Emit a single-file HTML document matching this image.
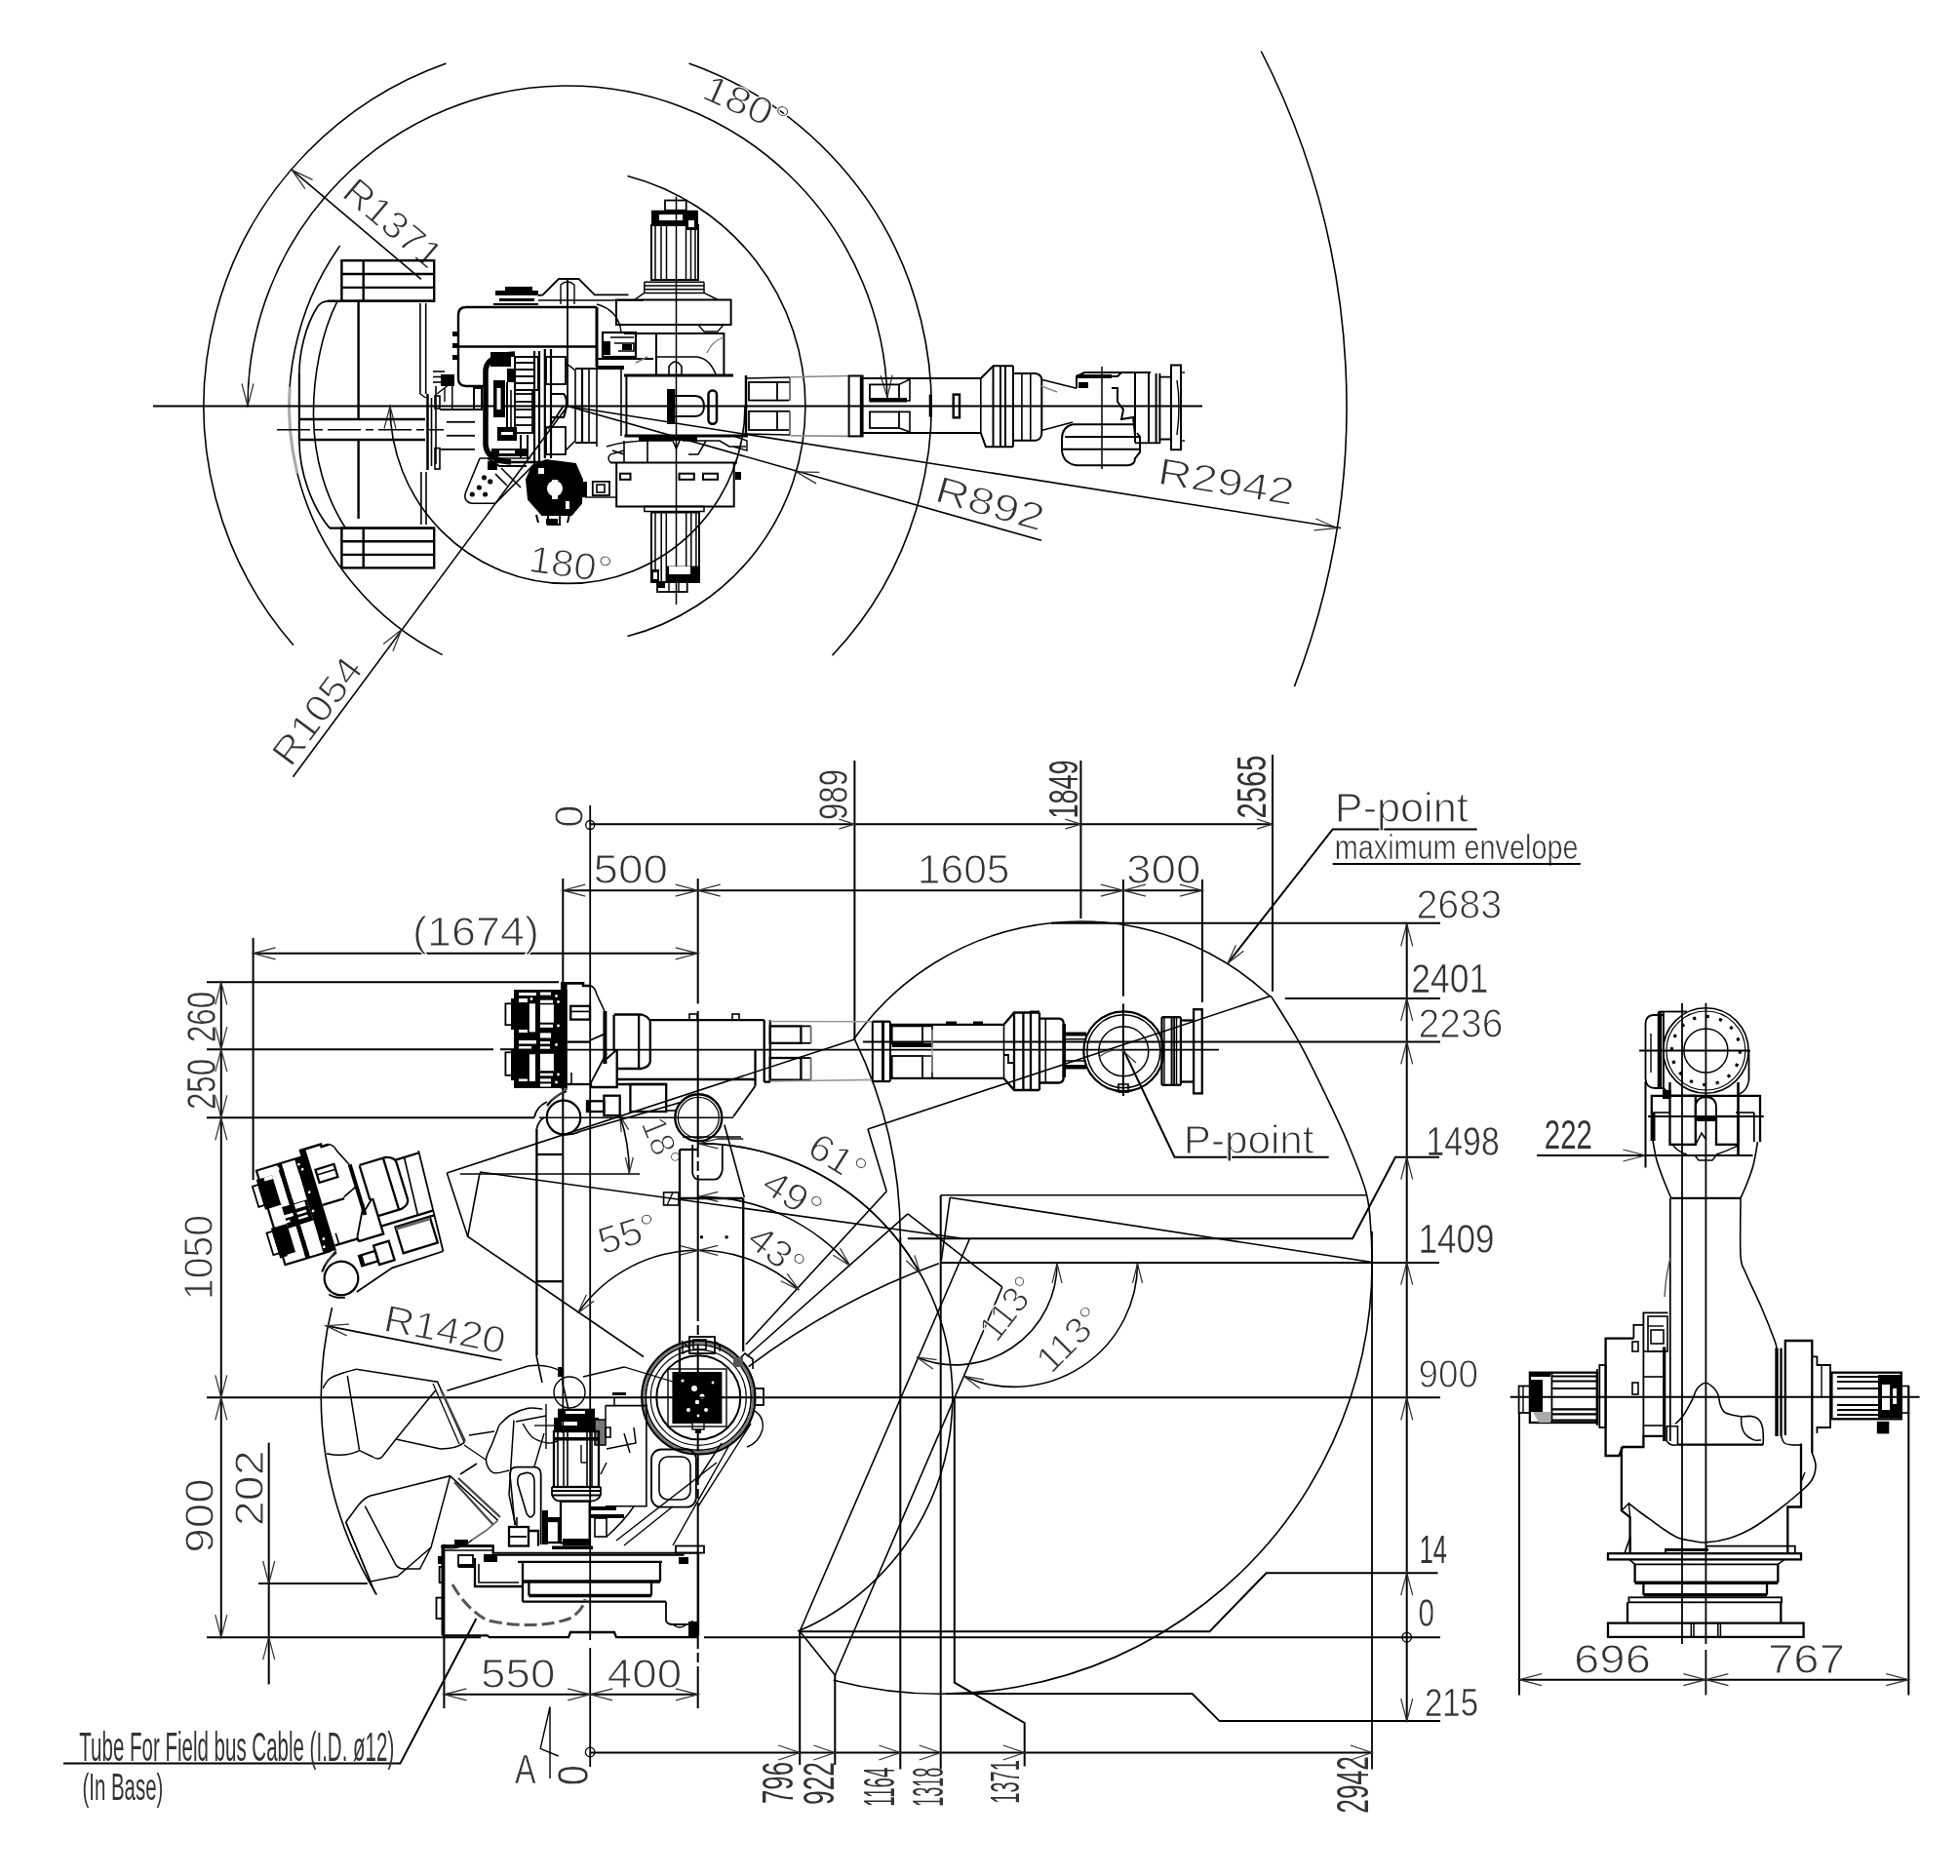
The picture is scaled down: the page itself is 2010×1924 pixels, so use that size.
<!DOCTYPE html>
<html lang="en"><head><meta charset="utf-8"><title>Robot dimensions and working envelope</title>
<style>
html,body{margin:0;padding:0;background:#fff;}
svg{display:block;will-change:transform;}

svg text{font-family:"Liberation Sans",sans-serif;white-space:pre;}
</style></head><body>
<svg width="2010" height="1924" viewBox="0 0 2010 1924" fill="none" stroke-linecap="butt" stroke-linejoin="miter">
<rect x="0" y="0" width="2010" height="1924" style="fill:#fff" stroke="none"/>
<g id="top-dims">
<path d="M300.9 661.7A373 373 0 0 1 457.5 64.9" stroke="#000" stroke-width="1.6" />
<path d="M706.5 64.9A373 373 0 0 1 853.5 672.3" stroke="#000" stroke-width="1.6" />
<path d="M254 416.5A328 328 0 0 1 909.9 407.9" stroke="#000" stroke-width="1.6" />
<path d="M248 393.5L254 416.5L260 393.5" stroke="#333" stroke-width="1.25"/>
<path d="M903.1 385.1L909.9 407.9L915.1 384.7" stroke="#333" stroke-width="1.25"/>
<path d="M453.7 671.6A285.5 285.5 0 0 1 348.7 251.9" stroke="#000" stroke-width="1.6" />
<path d="M305 485.6A285.5 285.5 0 0 1 297.2 396.6" stroke="#aaa" stroke-width="3" />
<path d="M643.5 180.4A244 244 0 0 1 643.5 652.6" stroke="#000" stroke-width="1.6" />
<path d="M400 416.5A182 182 0 0 0 764 416.5" stroke="#000" stroke-width="1.6" />
<path d="M406 439.5L400 416.5L394 439.5" stroke="#333" stroke-width="1.25"/>
<path d="M1293.3 52.5A799 799 0 0 1 1327.4 704.1" stroke="#000" stroke-width="1.6" />
<path d="M157 416.5L1233 416.5" stroke="#000" stroke-width="2" />
<path d="M582 286L582 416.5" stroke="#000" stroke-width="1.8" />
<path d="M582 416.5L300.5 796.7" stroke="#000" stroke-width="1.6" />
<path d="M402.9 667.7L411.8 645.7L393.2 660.6" stroke="#333" stroke-width="1.25"/>
<path d="M431.9 286.4L299.2 174.1" stroke="#000" stroke-width="1.6" />
<path d="M320.6 184.4L299.2 174.1L312.9 193.6" stroke="#333" stroke-width="1.25"/>
<path d="M582 416.5L1068 554.3" stroke="#000" stroke-width="1.6" />
<path d="M840.3 484.3L816.5 483.8L837 495.9" stroke="#333" stroke-width="1.25"/>
<path d="M582 416.5L1375 541.5" stroke="#000" stroke-width="1.6" />
<path d="M1347.5 543.8L1371.2 541.5L1349.4 532" stroke="#333" stroke-width="1.25"/>
<text transform="translate(349 200.5) rotate(40.3) scale(1.039 1)" style="font-size:38.8px;" fill="#333" stroke="#fff" stroke-width="1.1" paint-order="fill">R1371</text>
<text transform="translate(298 788) rotate(-53.3) scale(1.109 1)" style="font-size:38.8px;" fill="#333" stroke="#fff" stroke-width="1.1" paint-order="fill">R1054</text>
<text transform="translate(957 513.5) rotate(16) scale(1.227 1)" style="font-size:38.8px;" fill="#333" stroke="#fff" stroke-width="1.1" paint-order="fill">R892</text>
<text transform="translate(1186 496) rotate(9.1) scale(1.232 1)" style="font-size:38.8px;" fill="#333" stroke="#fff" stroke-width="1.1" paint-order="fill">R2942</text>
<text transform="translate(718 100) rotate(24) scale(1.145 1)" style="font-size:38.8px;" fill="#333" stroke="#fff" stroke-width="1.1" paint-order="fill">180°</text>
<text transform="translate(541 586) rotate(8) scale(1.070 1)" style="font-size:38.8px;" fill="#333" stroke="#fff" stroke-width="1.1" paint-order="fill">180°</text>
</g>
<g id="top-rear">
<rect x="350.4" y="267.2" width="94.8" height="41.6" stroke="#000" stroke-width="2.4" fill="none"/>
<path d="M350.4 281L445.2 281" stroke="#000" stroke-width="2.4" />
<path d="M350.4 294.9L445.2 294.9" stroke="#000" stroke-width="2.4" />
<path d="M372.7 267.2L372.7 308.8" stroke="#000" stroke-width="2.4" />
<rect x="350.4" y="541.6" width="94.8" height="40.8" stroke="#000" stroke-width="2.4" fill="none"/>
<path d="M350.4 555.3L445.2 555.3" stroke="#000" stroke-width="2.4" />
<path d="M350.4 568.9L445.2 568.9" stroke="#000" stroke-width="2.4" />
<path d="M372.7 541.6L372.7 582.4" stroke="#000" stroke-width="2.4" />
<path d="M445 308.8L336 308.8" stroke="#000" stroke-width="2.4" />
<path d="M336 308.8Q330 309 326 314C312 335 306.9 365 306.9 383" stroke="#000" stroke-width="1.7" />
<path d="M306.9 383L306.9 452" stroke="#000" stroke-width="2.2" />
<path d="M306.9 452C307 485 320 520 338 541.6" stroke="#000" stroke-width="1.7" />
<path d="M338 541.6L445 541.6" stroke="#000" stroke-width="2.4" />
<path d="M346 308.8C330 340 321 385 321.5 427C322 470 334 510 354 541" stroke="#000" stroke-width="1.6" />
<path d="M367.6 308.8L367.6 429.8" stroke="#000" stroke-width="2.4" />
<path d="M367.6 451L367.6 532" stroke="#000" stroke-width="2.4" />
<path d="M430.9 311L430.9 404" stroke="#000" stroke-width="1.6" />
<path d="M436.7 311L436.7 404" stroke="#000" stroke-width="1.6" />
<path d="M430.9 404L436.7 408" stroke="#000" stroke-width="1.4" />
<path d="M431.9 484L431.9 538" stroke="#000" stroke-width="1.6" />
<path d="M437 484L437 538" stroke="#000" stroke-width="1.6" />
<path d="M306.9 430L436 430" stroke="#000" stroke-width="2.4" />
<path d="M306.9 451L436 451" stroke="#000" stroke-width="2.4" />
<path d="M284 440.8L455 440.8" stroke="#000" stroke-width="1.4" stroke-dasharray="34 5 8 5"/>
<path d="M438.5 404L438.5 482" stroke="#000" stroke-width="2.5" />
<path d="M447 396L447 476" stroke="#000" stroke-width="1.6" />
<path d="M442.5 408L442.5 478" stroke="#000" stroke-width="1.6" />
<rect x="446" y="406" width="5" height="13" stroke="#000" stroke-width="1.6" fill="none"/>
<rect x="446" y="459.6" width="5" height="21.4" stroke="#000" stroke-width="1.6" fill="none"/>
<path d="M451 420L487 420" stroke="#000" stroke-width="1.8" />
<path d="M458 432.8L487 432.8" stroke="#000" stroke-width="1.8" />
<path d="M458 446.8L487 446.8" stroke="#000" stroke-width="1.8" />
<path d="M451 460.9L487 460.9" stroke="#000" stroke-width="1.8" />
<path d="M463.8 393L463.8 420" stroke="#000" stroke-width="1.5" />
</g>
<g id="top-body">
<path d="M612 315L478 315Q470 315 470 323L470 388Q470 396 478 396L500 396" stroke="#000" stroke-width="2.4" />
<path d="M470 355.5L612 355.5" stroke="#000" stroke-width="2.4" />
<path d="M612 315L612 376" stroke="#000" stroke-width="3" />
<rect x="464" y="340" width="6" height="5" fill="#000" stroke="none"/>
<rect x="464" y="352" width="6" height="5" fill="#000" stroke="none"/>
<rect x="464" y="364" width="6" height="5" fill="#000" stroke="none"/>
<rect x="452" y="384" width="14" height="12" fill="#000" stroke="none"/>
<path d="M444 381L456 381" stroke="#000" stroke-width="1.6" />
<path d="M444 386.5L456 386.5" stroke="#000" stroke-width="1.6" />
<path d="M444 392L456 392" stroke="#000" stroke-width="1.6" />
<path d="M456 398L456 412" stroke="#000" stroke-width="1.4" />
<path d="M466 390L448 404" stroke="#000" stroke-width="1.4" />
<rect x="508" y="298" width="44" height="5" fill="#000" stroke="none"/>
<rect x="512" y="306" width="36" height="3" fill="#000" stroke="none"/>
<path d="M506 312L552 312" stroke="#000" stroke-width="2" />
<rect x="518" y="294" width="28" height="4" fill="#000" stroke="none"/>
<path d="M552 303L556.7 302.4L573 286L593.5 286L609.8 302.4L644.5 302.4" stroke="#000" stroke-width="1.8" />
<path d="M575 312L575 292Q582 286 589 292L589 312" stroke="#000" stroke-width="1.4" />
<path d="M552 308L660 308" stroke="#000" stroke-width="1.6" />
<path d="M612 312Q634 318 637 340" stroke="#000" stroke-width="1.4" />
<rect x="682" y="205.5" width="21.7" height="10.2" stroke="#000" stroke-width="1.8" fill="none"/>
<rect x="668" y="215.7" width="48" height="15.3" fill="#000" stroke="none"/>
<rect x="676" y="220" width="24" height="6" fill="#fff" stroke="none"/>
<rect x="668" y="231" width="48" height="56" stroke="#000" stroke-width="2" fill="none"/>
<path d="M672 231L672 287" stroke="#000" stroke-width="1.5" />
<path d="M678 231L678 287" stroke="#000" stroke-width="1.5" />
<path d="M683.5 231L683.5 287" stroke="#000" stroke-width="1.5" />
<path d="M703.5 231L703.5 287" stroke="#000" stroke-width="1.5" />
<path d="M708.5 231L708.5 287" stroke="#000" stroke-width="1.5" />
<path d="M713 231L713 287" stroke="#000" stroke-width="1.5" />
<rect x="703" y="222" width="13" height="14" fill="#000" stroke="none"/>
<rect x="706" y="226" width="6" height="7" fill="#fff" stroke="none"/>
<path d="M660.8 289.2L722 289.2" stroke="#000" stroke-width="1.5" />
<path d="M660.8 293L722 293" stroke="#000" stroke-width="1.5" />
<path d="M660.8 296.7L722 296.7" stroke="#000" stroke-width="1.5" />
<path d="M660.8 300.4L722 300.4" stroke="#000" stroke-width="1.5" />
<path d="M660.8 289.2L660.8 300.4" stroke="#000" stroke-width="1.5" />
<path d="M722 289.2L722 300.4" stroke="#000" stroke-width="1.5" />
<path d="M660.8 300.4L650.6 307.5M722 300.4L736.3 307.5" stroke="#000" stroke-width="1.5" />
<rect x="632" y="307.5" width="117.6" height="25.5" stroke="#000" stroke-width="2" fill="none"/>
<path d="M693.5 201.6L693.5 620" stroke="#000" stroke-width="1.5" />
<path d="M673 342L742.4 342L742.4 384M673 342L673 384" stroke="#000" stroke-width="2" />
<path d="M640 342L673 342" stroke="#000" stroke-width="2" />
<path d="M716 333L722 340L736 340L742 333" stroke="#000" stroke-width="1.3" />
<path d="M742 346Q730 350 725 362" stroke="#777" stroke-width="1.3" />
<path d="M673 366L715 366Q728 368 734 384" stroke="#000" stroke-width="1.6" />
<path d="M686 384L686 376Q692.5 366 699 376L699 384" stroke="#000" stroke-width="1.6" />
<rect x="618" y="341" width="34" height="25" stroke="#000" stroke-width="2.2" fill="none"/>
<rect x="618" y="350" width="8" height="14" fill="#000" stroke="none"/>
<path d="M626 346L650 346M630 352L650 352L650 360L634 360" stroke="#000" stroke-width="1.6" />
<rect x="638" y="353" width="10" height="6" fill="#000" stroke="none"/>
<path d="M612 368L670 368" stroke="#000" stroke-width="2" />
<path d="M612 376L640 376" stroke="#000" stroke-width="2" />
<path d="M652 372L664 366" stroke="#777" stroke-width="1.4" />
<path d="M640 385L752 385" stroke="#000" stroke-width="3.2" />
<path d="M640.4 447L767 447" stroke="#000" stroke-width="3.2" />
<path d="M642.4 385L642.4 447" stroke="#000" stroke-width="2" />
<path d="M765 385L765 447" stroke="#000" stroke-width="2.5" />
<path d="M637 376L637 447" stroke="#000" stroke-width="1.6" />
<rect x="684" y="399" width="8.4" height="36" fill="#000" stroke="none"/>
<path d="M692 406L712 406Q722 406 722 416.5Q722 427 712 427L692 427" stroke="#000" stroke-width="1.8" />
<rect x="726.5" y="400.4" width="8.5" height="34.3" stroke="#000" stroke-width="2.5" fill="none" rx="4"/>
<rect x="768" y="392" width="29" height="18.6" stroke="#000" stroke-width="1.8" fill="none"/>
<path d="M797 392L810 392" stroke="#000" stroke-width="1.8" />
<path d="M797 410.6L809 410.6" stroke="#000" stroke-width="1.8" />
<rect x="768" y="421.8" width="29" height="19.2" stroke="#000" stroke-width="1.8" fill="none"/>
<path d="M797 421.8L810 421.8" stroke="#000" stroke-width="1.8" />
<path d="M797 441L809 441" stroke="#000" stroke-width="1.8" />
<path d="M810 387L810 411" stroke="#555" stroke-width="1.6" />
<path d="M810 422L810 446" stroke="#555" stroke-width="1.6" />
<path d="M765 388L810 387" stroke="#000" stroke-width="1.4" />
<path d="M765 445L810 446" stroke="#000" stroke-width="1.4" />
<path d="M528 363Q499 364 498 380L498 456Q499 472 524 474" stroke="#000" stroke-width="5.5" />
<rect x="503" y="361" width="21" height="15" fill="#000" stroke="none"/>
<rect x="506" y="390" width="12" height="38" fill="#000" stroke="none"/>
<rect x="509.5" y="398" width="4" height="22" fill="#fff" stroke="none"/>
<rect x="510" y="438" width="20" height="14" fill="#000" stroke="none"/>
<rect x="514" y="443" width="12" height="3" fill="#fff" stroke="none"/>
<rect x="520" y="378" width="8" height="14" fill="#000" stroke="none"/>
<path d="M528 372L548 372" stroke="#000" stroke-width="2" />
<path d="M528 379L548 379" stroke="#000" stroke-width="2" />
<path d="M528 386L548 386" stroke="#000" stroke-width="2" />
<path d="M528 393L548 393" stroke="#000" stroke-width="2" />
<rect x="528" y="366" width="24" height="34" stroke="#000" stroke-width="2" fill="none"/>
<path d="M548 360L548 476" stroke="#000" stroke-width="2.2" />
<path d="M553 360L553 476" stroke="#000" stroke-width="2.2" />
<path d="M528 404L546 404" stroke="#000" stroke-width="1.8" />
<path d="M528 412L546 412" stroke="#000" stroke-width="1.8" />
<path d="M528 420L546 420" stroke="#000" stroke-width="1.8" />
<path d="M528 428L546 428" stroke="#000" stroke-width="1.8" />
<path d="M528 436L546 436" stroke="#000" stroke-width="1.8" />
<rect x="528" y="400" width="18" height="44" stroke="#000" stroke-width="1.8" fill="none"/>
<rect x="504" y="460" width="36" height="8" fill="#000" stroke="none"/>
<path d="M500 474L556 474" stroke="#000" stroke-width="2.4" />
<path d="M500 470L512 478L540 478" stroke="#000" stroke-width="2" />
<rect x="512" y="462" width="16" height="3" fill="#fff" stroke="none"/>
<path d="M534 446L534 470" stroke="#000" stroke-width="2" />
<path d="M541 446L541 470" stroke="#000" stroke-width="2" />
<path d="M520 392L520 440" stroke="#000" stroke-width="2" />
<path d="M524 400L524 440" stroke="#000" stroke-width="1.6" />
<rect x="486" y="398" width="8" height="22" stroke="#000" stroke-width="2" fill="none"/>
<path d="M558.8 358L558.8 470" stroke="#000" stroke-width="2.2" />
<path d="M565 358L565 470" stroke="#000" stroke-width="2.2" />
<rect x="560" y="366" width="20" height="28" stroke="#000" stroke-width="1.8" fill="none"/>
<rect x="560" y="438" width="20" height="28" stroke="#000" stroke-width="1.8" fill="none"/>
<path d="M580 372L590 380L590 452L580 462" stroke="#000" stroke-width="1.6" />
<path d="M566 404L578 404Q584 410 578 428L566 428" stroke="#000" stroke-width="2.2" />
<path d="M562 440L578 416" stroke="#000" stroke-width="1.8" />
<path d="M597 378L597 454" stroke="#000" stroke-width="2.2" />
<path d="M604 378L604 454" stroke="#000" stroke-width="1.6" />
<path d="M590 378L640 378" stroke="#000" stroke-width="2" />
<path d="M590 454L612 454" stroke="#000" stroke-width="2" />
<path d="M612 376L612 458" stroke="#000" stroke-width="1.6" />
<path d="M622 458Q640 452 668 452L690 452M700 452L738 452L748 458L765 458" stroke="#000" stroke-width="1.6" />
<path d="M628 462L640 466M640 452L640 474M664 452L664 474M724 452L716 466L706 466" stroke="#000" stroke-width="1.6" />
<rect x="655" y="447" width="60" height="5" fill="#000" stroke="none"/>
<path d="M690 452L693.5 460L697 452" stroke="#000" stroke-width="1.6" />
<path d="M752 447L766 452L766 462L752 458" stroke="#000" stroke-width="1.4" />
<path d="M632.2 474.5L632.2 519.4L752.7 519.4L752.7 474.5" stroke="#000" stroke-width="2" />
<path d="M626 474.5L756 474.5" stroke="#000" stroke-width="2" />
<path d="M626 474.5Q622 470 626 466L640 462" stroke="#000" stroke-width="1.4" />
<rect x="636" y="485.7" width="10.5" height="6.1" stroke="#000" stroke-width="2" fill="none"/>
<rect x="696.5" y="485.7" width="15.3" height="6.1" stroke="#000" stroke-width="2" fill="none"/>
<rect x="721" y="485.7" width="15" height="6.1" stroke="#000" stroke-width="2" fill="none"/>
<rect x="754" y="484" width="6" height="8" fill="#000" stroke="none"/>
<rect x="660.8" y="519.4" width="61.2" height="5.1" stroke="#000" stroke-width="1.5" fill="none"/>
<rect x="668" y="525.5" width="49" height="71.5" stroke="#000" stroke-width="2" fill="none"/>
<path d="M672 525.5L672 597" stroke="#000" stroke-width="1.5" />
<path d="M678.2 525.5L678.2 597" stroke="#000" stroke-width="1.5" />
<path d="M683.3 525.5L683.3 597" stroke="#000" stroke-width="1.5" />
<path d="M703.7 525.5L703.7 597" stroke="#000" stroke-width="1.5" />
<path d="M708.8 525.5L708.8 597" stroke="#000" stroke-width="1.5" />
<path d="M713.9 525.5L713.9 597" stroke="#000" stroke-width="1.5" />
<rect x="683.3" y="580.6" width="33.7" height="16.4" fill="#000" stroke="none"/>
<rect x="686" y="581" width="22" height="8" fill="#fff" stroke="none"/>
<rect x="668" y="584" width="8" height="13" fill="#000" stroke="none"/>
<rect x="670" y="587" width="4" height="7" fill="#fff" stroke="none"/>
<rect x="674" y="597" width="30.7" height="10" stroke="#000" stroke-width="1.8" fill="none"/>
<rect x="674" y="597" width="8" height="6" fill="#000" stroke="none"/>
<path d="M686 597L686 607" stroke="#000" stroke-width="1.4" />
<path d="M696 597L696 607" stroke="#000" stroke-width="1.4" />
<path d="M546 478L560 472L590 476L597 492L596 516L586 528L556 528L542 512L540 492Z" fill="#000" stroke="#000" stroke-width="2"/>
<circle cx="569" cy="501" r="8" fill="#fff" stroke="none"/>
<rect x="566" y="492" width="6" height="20" fill="#fff" stroke="none"/>
<rect x="552" y="480" width="6" height="6" fill="#fff" stroke="none"/>
<rect x="580" y="514" width="4" height="8" fill="#fff" stroke="none"/>
<path d="M550 528L552 536M562 528L562 538L574 538L574 528M584 528L582 536" stroke="#000" stroke-width="2" />
<rect x="560" y="532" width="12" height="6" fill="#000" stroke="none"/>
<rect x="596" y="494" width="6" height="16" fill="#000" stroke="none"/>
<rect x="607.8" y="493.9" width="17.2" height="14.1" stroke="#000" stroke-width="1.8" fill="none"/>
<rect x="612" y="497" width="8" height="8" stroke="#000" stroke-width="1.6" fill="none"/>
<path d="M600 510L632 510" stroke="#000" stroke-width="1.4" />
<path d="M492 470L478 504Q474 514 484 516.3L508 516.3L548 476" stroke="#000" stroke-width="1.6" />
<path d="M492 470L544 470" stroke="#000" stroke-width="1.6" />
<circle cx="484.3" cy="507" r="2.6" fill="#111" stroke="none"/>
<circle cx="491.4" cy="500" r="2.6" fill="#111" stroke="none"/>
<circle cx="497.6" cy="507" r="2.6" fill="#111" stroke="none"/>
<circle cx="502.7" cy="493.9" r="2.6" fill="#111" stroke="none"/>
<circle cx="496.5" cy="489.8" r="2.6" fill="#111" stroke="none"/>
<rect x="500" y="474" width="10" height="8" fill="#000" stroke="none"/>
<path d="M508 486L520 498M514 480L534 500" stroke="#000" stroke-width="1.6" />
</g>
<g id="top-forearm">
<path d="M810.6 386.7L870.6 385.5" stroke="#888" stroke-width="1.6" />
<path d="M810.6 446.7L870.6 447.4" stroke="#888" stroke-width="1.6" />
<rect x="870.6" y="385.5" width="14" height="61.9" stroke="#000" stroke-width="2" fill="none"/>
<path d="M883 385.5L883 447.4" stroke="#000" stroke-width="2.4" />
<path d="M884.6 388L1005.8 388" stroke="#000" stroke-width="2" />
<path d="M884.6 444L1005.8 444" stroke="#000" stroke-width="2" />
<rect x="892" y="394.4" width="30" height="16.6" stroke="#000" stroke-width="1.8" fill="none"/>
<path d="M922 394.4L933 389M922 411L933 411L933 389" stroke="#000" stroke-width="1.6" />
<rect x="892" y="408" width="38" height="4.5" fill="#000" stroke="none"/>
<rect x="892" y="422.4" width="30" height="16.6" stroke="#000" stroke-width="1.8" fill="none"/>
<path d="M922 439L933 443M922 422.4L933 422.4L933 443" stroke="#000" stroke-width="1.6" />
<path d="M954.2 404.6L954.2 427.6" stroke="#000" stroke-width="3" />
<rect x="977.7" y="404.6" width="6.3" height="23.7" stroke="#000" stroke-width="2.4" fill="none"/>
<path d="M1005.8 388L1018.5 375.3L1039 375.3M1005.8 444L1010.9 458.2L1039 458.2" stroke="#000" stroke-width="2" />
<path d="M1005.8 388L1005.8 444" stroke="#000" stroke-width="1.6" />
<path d="M1018.5 375.3L1018.5 458.2" stroke="#000" stroke-width="2" />
<path d="M1026 375.3L1026 458.2" stroke="#000" stroke-width="2" />
<path d="M1031 375.3L1031 458.2" stroke="#000" stroke-width="2" />
<path d="M1039 375.3L1039 458.2" stroke="#000" stroke-width="2" />
<path d="M1039 383L1062 383Q1068.3 384 1068.3 390L1068.3 444Q1068 451 1062 451.8L1039 451.8" stroke="#000" stroke-width="2" />
<path d="M1047.9 383L1047.9 451.8" stroke="#000" stroke-width="1.6" />
<path d="M1056.8 383L1056.8 451.8" stroke="#000" stroke-width="1.6" />
<path d="M1068 389.3L1104 398.2M1068 441.6L1100 433" stroke="#000" stroke-width="1.6" />
<path d="M1068 396L1084 402" stroke="#888" stroke-width="1.4" />
<path d="M1104 398L1104 386L1112 382L1180 382" stroke="#000" stroke-width="2" />
<rect x="1104" y="384" width="36" height="4" fill="#000" stroke="none"/>
<rect x="1106" y="392" width="10" height="6" fill="#000" stroke="none"/>
<path d="M1128 386L1146 386L1150 382M1140 398L1146 398L1146 412L1152 420L1150 430L1162 428L1164 446" stroke="#000" stroke-width="2" />
<path d="M1130 376L1130 481" stroke="#000" stroke-width="1.5" />
<path d="M1100 435.2L1164 435.2M1092 448L1169 448M1090 460.7L1169 460.7M1100 435.2Q1089 438 1089 450L1089 462Q1090 475 1104 477.3L1156 477.3Q1164 477 1164 470L1169 464L1169 448L1166 444" stroke="#000" stroke-width="2" />
<path d="M1178 383L1178 454.3" stroke="#000" stroke-width="2" />
<path d="M1185.6 383L1185.6 454.3" stroke="#000" stroke-width="2" />
<path d="M1189.4 383L1189.4 454.3" stroke="#000" stroke-width="2" />
<path d="M1164 382L1164 454" stroke="#000" stroke-width="2" />
<path d="M1164 454.3L1190 454.3" stroke="#000" stroke-width="1.8" />
<path d="M1189.4 386.7L1201 386.7M1189.4 450.5L1201 450.5" stroke="#000" stroke-width="1.8" />
<rect x="1201" y="374.5" width="10" height="86.7" stroke="#000" stroke-width="2" fill="none"/>
<path d="M1207 390Q1211 416 1207 446" stroke="#000" stroke-width="1.4" />
<path d="M1211 382L1215 382" stroke="#000" stroke-width="1.4" />
<path d="M1211 452L1215 452" stroke="#000" stroke-width="1.4" />
</g>
<g id="side-dims">
<path d="M605.2 845.2L1305 845.2" stroke="#000" stroke-width="2.0" />
<circle cx="605.2" cy="846" r="4.5" stroke="#000" stroke-width="1.3" fill="none"/>
<path d="M605.2 826L605.2 1682" stroke="#000" stroke-width="1.8" />
<path d="M605.2 1690L605.2 1812" stroke="#000" stroke-width="1.8" />
<path d="M876.4 780L876.4 1066" stroke="#000" stroke-width="2.0" />
<path d="M1108.4 780L1108.4 942" stroke="#000" stroke-width="2.0" />
<path d="M1305 774L1305 1016.7" stroke="#000" stroke-width="2.0" />
<path d="M860.4 850.2L876.4 845.2L860.4 840.2" stroke="#333" stroke-width="1.25"/>
<path d="M1092.4 850.2L1108.4 845.2L1092.4 840.2" stroke="#333" stroke-width="1.25"/>
<path d="M1289 850.2L1305 845.2L1289 840.2" stroke="#333" stroke-width="1.25"/>
<text transform="translate(597.8 848.8) rotate(-90) scale(0.958 1)" style="font-size:43.2px;" fill="#333" stroke="#fff" stroke-width="1.1" paint-order="fill">0</text>
<text transform="translate(868.5 841) rotate(-90) scale(0.722 1)" style="font-size:43.2px;" fill="#333" stroke="#fff" stroke-width="0.55" paint-order="fill">989</text>
<text transform="translate(1104.5 839.6) rotate(-90) scale(0.625 1)" style="font-size:43.2px;" fill="#333" stroke="none">1849</text>
<text transform="translate(1297.5 839.6) rotate(-90) scale(0.677 1)" style="font-size:43.2px;" fill="#333" stroke="none">2565</text>
<path d="M577.3 913.2L1233 913.2" stroke="#000" stroke-width="2.0" />
<path d="M577.3 901L577.3 1420" stroke="#000" stroke-width="2.0" />
<path d="M715.7 901L715.7 1029.4" stroke="#000" stroke-width="2.0" />
<path d="M715.7 1037L715.7 1752" stroke="#000" stroke-width="2.0" stroke-dasharray="150 4 10 4"/>
<path d="M1151.9 902L1151.9 1021.7" stroke="#000" stroke-width="2.0" />
<path d="M1151.9 1029.4L1151.9 1124" stroke="#000" stroke-width="2.0" />
<path d="M1233 902L1233 1028" stroke="#000" stroke-width="2.0" />
<path d="M600.3 907.2L577.3 913.2L600.3 919.2" stroke="#333" stroke-width="1.25"/>
<path d="M692.7 919.2L715.7 913.2L692.7 907.2" stroke="#333" stroke-width="1.25"/>
<path d="M738.7 907.2L715.7 913.2L738.7 919.2" stroke="#333" stroke-width="1.25"/>
<path d="M1128.9 919.2L1151.9 913.2L1128.9 907.2" stroke="#333" stroke-width="1.25"/>
<path d="M1174.9 907.2L1151.9 913.2L1174.9 919.2" stroke="#333" stroke-width="1.25"/>
<path d="M1210 919.2L1233 913.2L1210 907.2" stroke="#333" stroke-width="1.25"/>
<text transform="translate(608.5 906.3) scale(1.099 1)" style="font-size:41.7px;" fill="#333" stroke="#fff" stroke-width="1.1" paint-order="fill">500</text>
<text transform="translate(940.7 906.3) scale(1.023 1)" style="font-size:41.7px;" fill="#333" stroke="#fff" stroke-width="1.1" paint-order="fill">1605</text>
<text transform="translate(1155 906.3) scale(1.099 1)" style="font-size:41.7px;" fill="#333" stroke="#fff" stroke-width="1.1" paint-order="fill">300</text>
<path d="M259.6 977.8L715.7 977.8" stroke="#000" stroke-width="2.0" />
<path d="M259.6 962L259.6 1210" stroke="#000" stroke-width="2.0" />
<path d="M282.6 971.8L259.6 977.8L282.6 983.8" stroke="#333" stroke-width="1.25"/>
<path d="M692.7 983.8L715.7 977.8L692.7 971.8" stroke="#333" stroke-width="1.25"/>
<text transform="translate(423 970) scale(1.078 1)" style="font-size:41.7px;" fill="#333" stroke="#fff" stroke-width="1.1" paint-order="fill">(1674)</text>
<path d="M226.8 1007.3L226.8 1679.2" stroke="#000" stroke-width="2.0" />
<path d="M212 1007.3L573 1007.3" stroke="#000" stroke-width="2.0" />
<path d="M212 1076.2L506 1076.2" stroke="#000" stroke-width="2.0" />
<path d="M513 1076.2L530 1076.2" stroke="#000" stroke-width="2.0" />
<path d="M212 1146.3L548 1146.3" stroke="#000" stroke-width="2.0" />
<path d="M212 1433.3L1477 1433.3" stroke="#000" stroke-width="2.0" />
<path d="M212 1679.2L493 1679.2" stroke="#000" stroke-width="2.0" />
<path d="M722 1679.2L1477 1679.2" stroke="#000" stroke-width="2.0" />
<path d="M232.8 1030.3L226.8 1007.3L220.8 1030.3" stroke="#333" stroke-width="1.25"/>
<path d="M220.8 1053.2L226.8 1076.2L232.8 1053.2" stroke="#333" stroke-width="1.25"/>
<path d="M232.8 1099.2L226.8 1076.2L220.8 1099.2" stroke="#333" stroke-width="1.25"/>
<path d="M220.8 1123.3L226.8 1146.3L232.8 1123.3" stroke="#333" stroke-width="1.25"/>
<path d="M232.8 1169.3L226.8 1146.3L220.8 1169.3" stroke="#333" stroke-width="1.25"/>
<path d="M220.8 1410.3L226.8 1433.3L232.8 1410.3" stroke="#333" stroke-width="1.25"/>
<path d="M232.8 1456.3L226.8 1433.3L220.8 1456.3" stroke="#333" stroke-width="1.25"/>
<path d="M220.8 1656.2L226.8 1679.2L232.8 1656.2" stroke="#333" stroke-width="1.25"/>
<text transform="translate(221 1069) rotate(-90) scale(0.722 1)" style="font-size:43.2px;" fill="#333" stroke="#fff" stroke-width="0.55" paint-order="fill">260</text>
<text transform="translate(221 1138) rotate(-90) scale(0.722 1)" style="font-size:43.2px;" fill="#333" stroke="#fff" stroke-width="0.55" paint-order="fill">250</text>
<text transform="translate(218.3 1333) rotate(-90) scale(0.906 1)" style="font-size:43.2px;" fill="#333" stroke="#fff" stroke-width="1.1" paint-order="fill">1050</text>
<text transform="translate(219 1592.8) rotate(-90) scale(1.062 1)" style="font-size:43.2px;" fill="#333" stroke="#fff" stroke-width="1.1" paint-order="fill">900</text>
<text transform="translate(269.6 1565.3) rotate(-90) scale(1.083 1)" style="font-size:43.2px;" fill="#333" stroke="#fff" stroke-width="1.1" paint-order="fill">202</text>
<path d="M275.7 1479.6L275.7 1727.5" stroke="#000" stroke-width="2.0" />
<path d="M269.7 1601L275.7 1624L281.7 1601" stroke="#333" stroke-width="1.25"/>
<path d="M281.7 1702.2L275.7 1679.2L269.7 1702.2" stroke="#333" stroke-width="1.25"/>
<path d="M265 1624L376.7 1624" stroke="#000" stroke-width="2.0" />
<path d="M455.4 1737.8L716 1737.8" stroke="#000" stroke-width="2.0" />
<path d="M455.4 1583.7L455.4 1752" stroke="#000" stroke-width="2.0" />
<path d="M478.4 1731.8L455.4 1737.8L478.4 1743.8" stroke="#333" stroke-width="1.25"/>
<path d="M582.2 1743.8L605.2 1737.8L582.2 1731.8" stroke="#333" stroke-width="1.25"/>
<path d="M628.2 1731.8L605.2 1737.8L628.2 1743.8" stroke="#333" stroke-width="1.25"/>
<path d="M693 1743.8L716 1737.8L693 1731.8" stroke="#333" stroke-width="1.25"/>
<text transform="translate(493 1730.8) scale(1.099 1)" style="font-size:41.7px;" fill="#333" stroke="#fff" stroke-width="1.1" paint-order="fill">550</text>
<text transform="translate(622.7 1730.8) scale(1.099 1)" style="font-size:41.7px;" fill="#333" stroke="#fff" stroke-width="1.1" paint-order="fill">400</text>
<path d="M605.2 1797.5L1407 1797.5" stroke="#000" stroke-width="2.0" />
<circle cx="605.2" cy="1797" r="4.8" stroke="#000" stroke-width="1.3" fill="none"/>
<path d="M820.2 1673L820.2 1810" stroke="#000" stroke-width="2.0" />
<path d="M856.3 1716.5L856.3 1810" stroke="#000" stroke-width="2.0" />
<path d="M923.3 1269L923.3 1814.5" stroke="#000" stroke-width="2.0" />
<path d="M964.7 1225.7L964.7 1814.5" stroke="#000" stroke-width="2.0" />
<path d="M978.8 1433L978.8 1725.7L1050.7 1767L1050.7 1811.4" stroke="#000" stroke-width="2.0" />
<path d="M1407 1263L1407 1814.4" stroke="#000" stroke-width="1.8" />
<path d="M798.2 1805L820.2 1797.5L798.2 1790" stroke="#333" stroke-width="1.25"/>
<path d="M834.3 1805L856.3 1797.5L834.3 1790" stroke="#333" stroke-width="1.25"/>
<path d="M901.3 1805L923.3 1797.5L901.3 1790" stroke="#333" stroke-width="1.25"/>
<path d="M942.7 1805L964.7 1797.5L942.7 1790" stroke="#333" stroke-width="1.25"/>
<path d="M1028.7 1805L1050.7 1797.5L1028.7 1790" stroke="#333" stroke-width="1.25"/>
<path d="M1385 1805L1407 1797.5L1385 1790" stroke="#333" stroke-width="1.25"/>
<text transform="translate(602.9 1831.3) rotate(-90) scale(0.847 1)" style="font-size:44.6px;" fill="#333" stroke="#fff" stroke-width="0.55" paint-order="fill">0</text>
<text transform="translate(812.5 1850) rotate(-90) scale(0.578 1)" style="font-size:44.6px;" fill="#333" stroke="none">796</text>
<text transform="translate(855.4 1851) rotate(-90) scale(0.591 1)" style="font-size:44.6px;" fill="#333" stroke="none">922</text>
<text transform="translate(916.6 1852.7) rotate(-90) scale(0.417 1)" style="font-size:44.6px;" fill="#333" stroke="none">1164</text>
<text transform="translate(967 1852.7) rotate(-90) scale(0.403 1)" style="font-size:44.6px;" fill="#333" stroke="none">1318</text>
<text transform="translate(1045 1849.7) rotate(-90) scale(0.463 1)" style="font-size:43.2px;" fill="#333" stroke="none">1371</text>
<text transform="translate(1402.5 1859.7) rotate(-90) scale(0.573 1)" style="font-size:46px;" fill="#333" stroke="none">2942</text>
<path d="M1442.7 947.3L1442.7 1765" stroke="#000" stroke-width="2.0" />
<path d="M1078 946.8L1477 946.8" stroke="#000" stroke-width="2.0" />
<path d="M1317.8 1023.9L1477 1023.9" stroke="#000" stroke-width="2.0" />
<path d="M885 1068.4L1477 1068.4" stroke="#000" stroke-width="2.0" />
<path d="M930.9 1270.3L1387 1270.3L1431 1186.7L1476 1186.7" stroke="#000" stroke-width="2.0" />
<path d="M964.7 1294.9L1476 1294.9" stroke="#000" stroke-width="2.0" />
<path d="M820 1673.2L1240.5 1673.2L1298.6 1613.2L1474.5 1613.2" stroke="#000" stroke-width="2.0" />
<path d="M970 1737L1222.6 1737L1250.6 1765.1L1477 1765.1" stroke="#000" stroke-width="2.0" />
<path d="M1448.7 970.3L1442.7 947.3L1436.7 970.3" stroke="#333" stroke-width="1.25"/>
<path d="M1448.7 1046.9L1442.7 1023.9L1436.7 1046.9" stroke="#333" stroke-width="1.25"/>
<path d="M1448.7 1091.4L1442.7 1068.4L1436.7 1091.4" stroke="#333" stroke-width="1.25"/>
<path d="M1448.7 1209.7L1442.7 1186.7L1436.7 1209.7" stroke="#333" stroke-width="1.25"/>
<path d="M1448.7 1317.7L1442.7 1294.7L1436.7 1317.7" stroke="#333" stroke-width="1.25"/>
<path d="M1448.7 1456.3L1442.7 1433.3L1436.7 1456.3" stroke="#333" stroke-width="1.25"/>
<path d="M1448.7 1636.2L1442.7 1613.2L1436.7 1636.2" stroke="#333" stroke-width="1.25"/>
<path d="M1436.7 1742.1L1442.7 1765.1L1448.7 1742.1" stroke="#333" stroke-width="1.25"/>
<circle cx="1442.7" cy="1679.2" r="4.8" stroke="#000" stroke-width="1.3" fill="none"/>
<text transform="translate(1452.4 942.2) scale(0.932 1)" style="font-size:42.4px;" fill="#333" stroke="#fff" stroke-width="1.1" paint-order="fill">2683</text>
<text transform="translate(1447.3 1017.8) scale(0.837 1)" style="font-size:42.4px;" fill="#333" stroke="#fff" stroke-width="0.55" paint-order="fill">2401</text>
<text transform="translate(1454.5 1063.7) scale(0.921 1)" style="font-size:42.4px;" fill="#333" stroke="#fff" stroke-width="1.1" paint-order="fill">2236</text>
<text transform="translate(1462.6 1185) scale(0.781 1)" style="font-size:43.2px;" fill="#333" stroke="#fff" stroke-width="0.55" paint-order="fill">1498</text>
<text transform="translate(1454.5 1285) scale(0.812 1)" style="font-size:43.2px;" fill="#333" stroke="#fff" stroke-width="0.55" paint-order="fill">1409</text>
<text transform="translate(1454.5 1422.6) scale(0.899 1)" style="font-size:41px;" fill="#333" stroke="#fff" stroke-width="1.1" paint-order="fill">900</text>
<text transform="translate(1455.8 1602.5) scale(0.614 1)" style="font-size:41px;" fill="#333" stroke="none">14</text>
<text transform="translate(1454.5 1668.4) scale(0.724 1)" style="font-size:41px;" fill="#333" stroke="#fff" stroke-width="0.55" paint-order="fill">0</text>
<text transform="translate(1461 1759.8) scale(0.804 1)" style="font-size:41px;" fill="#333" stroke="#fff" stroke-width="0.55" paint-order="fill">215</text>
<path d="M1259 988L1366.7 850.4L1514.7 850.4" stroke="#000" stroke-width="2.0" />
<path d="M1267.4 969.2L1259 988L1275.3 975.3" stroke="#333" stroke-width="1.25"/>
<text transform="translate(1368.8 843.3) scale(1.015 1)" style="font-size:42.6px;" fill="#333" stroke="#fff" stroke-width="1.1" paint-order="fill">P-point</text>
<text transform="translate(1368.8 881) scale(0.835 1)" style="font-size:34.5px;" fill="#333" stroke="#fff" stroke-width="0.55" paint-order="fill">maximum envelope</text>
<path d="M1366.7 886L1620.8 886" stroke="#000" stroke-width="2.0" />
<path d="M1151.9 1076L1204.5 1186.7L1362.7 1186.7" stroke="#000" stroke-width="2.0" />
<text transform="translate(1213.7 1183) scale(1.031 1)" style="font-size:41px;" fill="#333" stroke="#fff" stroke-width="1.1" paint-order="fill">P-point</text>
<path d="M488.4 1660L410.4 1808.6L65 1808.6" stroke="#000" stroke-width="2.0" />
<text transform="translate(81.3 1805.6) scale(0.475 1)" style="font-size:43.2px;" fill="#333" stroke="none">Tube For Field bus Cable (I.D. ø12)</text>
<text transform="translate(84.4 1846) scale(0.527 1)" style="font-size:38.8px;" fill="#333" stroke="none">(In Base)</text>
<text transform="translate(528 1828.5) scale(0.747 1)" style="font-size:43.2px;" fill="#333" stroke="#fff" stroke-width="0.55" paint-order="fill">A</text>
<path d="M564 1824L564 1750.5L554.2 1793.3L572.6 1801" stroke="#000" stroke-width="1.4" />
</g>
<g id="side-envelope">
<path d="M458.3 1203L876.4 1066" stroke="#000" stroke-width="1.6" />
<path d="M890 1158L1303 1021.5" stroke="#000" stroke-width="1.6" />
<path d="M890 1158L909.2 1221.8" stroke="#000" stroke-width="1.6" />
<path d="M909.2 1221.8L765 1378.7" stroke="#000" stroke-width="1.6" />
<path d="M930.9 1244.8L766 1391" stroke="#000" stroke-width="1.6" />
<path d="M930.9 1244.8L1027.8 1320" stroke="#000" stroke-width="1.6" />
<path d="M1027.8 1320L856.3 1718" stroke="#000" stroke-width="1.6" />
<path d="M994.5 1270.3L820.2 1673" stroke="#000" stroke-width="1.6" />
<path d="M767.6 1401.7Q857 1334 962.8 1295.8" stroke="#000" stroke-width="1.6" />
<path d="M875.6 1065.7A284 284 0 0 1 1302.4 1022" stroke="#000" stroke-width="1.6" />
<path d="M1303.3 1021.3C1308.1 1029.1 1322.7 1051.5 1332 1068.3C1341.3 1085.1 1350.7 1104.7 1359 1122C1367.3 1139.3 1375 1155 1382 1172C1389 1189 1397.2 1208.5 1401.2 1223.8C1405.2 1239.1 1405 1252.2 1406 1264C1407 1275.8 1406.8 1289.6 1407 1294.7" stroke="#000" stroke-width="1.6" />
<path d="M1407.1 1294.7A442.4 442.4 0 0 1 854.7 1723.2" stroke="#000" stroke-width="1.6" />
<path d="M856.3 1718L820.2 1673" stroke="#000" stroke-width="1.6" />
<path d="M876.4 1065.9A463.3 463.3 0 0 1 923.3 1269" stroke="#000" stroke-width="1.6" />
<path d="M716.3 1172.8A260.5 260.5 0 0 1 818.1 1673.1" stroke="#000" stroke-width="1.6" />
<path d="M458.3 1203L479.7 1268.2L660 1391.5" stroke="#000" stroke-width="1.6" />
<path d="M492 1203L479.7 1268.2" stroke="#000" stroke-width="1.6" />
<path d="M471.8 1204L656 1204" stroke="#000" stroke-width="1.5" />
<path d="M492 1202L986 1270" stroke="#000" stroke-width="1.6" />
<path d="M964.7 1225.8L1401.4 1225.8" stroke="#000" stroke-width="1.5" />
<path d="M974.2 1228.2L1405.5 1294.3" stroke="#000" stroke-width="1.6" />
<path d="M974.2 1228.2L965.3 1293" stroke="#000" stroke-width="1.6" />
<path d="M386.3 1635.5A387 387 0 0 1 340.5 1341" stroke="#000" stroke-width="1.6" />
<path d="M334.3 1359.6L514.5 1395" stroke="#000" stroke-width="1.6" />
<path d="M358 1358.1L334.3 1359.6L355.7 1369.9" stroke="#333" stroke-width="1.25"/>
<text transform="translate(392 1364.5) rotate(11.1) scale(1.101 1)" style="font-size:38.8px;" fill="#333" stroke="#fff" stroke-width="1.1" paint-order="fill">R1420</text>
<path d="M716.3 1172.8A260.5 260.5 0 0 1 944.1 1307" stroke="#000" stroke-width="1.6" />
<path d="M929.3 1292.7L944.1 1307L937.8 1287.4" stroke="#333" stroke-width="1.25"/>
<path d="M736.3 1167.8L716.3 1172.8L736.3 1177.8" stroke="#333" stroke-width="1.25"/>
<path d="M716.3 1227.3A206 206 0 0 1 871.8 1298.2" stroke="#000" stroke-width="1.6" />
<path d="M854.3 1287.2L871.8 1298.2L861.5 1280.3" stroke="#333" stroke-width="1.25"/>
<path d="M736.3 1222.3L716.3 1227.3L736.3 1232.3" stroke="#333" stroke-width="1.25"/>
<path d="M716.3 1282.3A151 151 0 0 1 819.3 1322.9" stroke="#000" stroke-width="1.6" />
<path d="M800.7 1313.8L819.3 1322.9L807.2 1306.2" stroke="#333" stroke-width="1.25"/>
<path d="M736.3 1277.3L716.3 1282.3L736.3 1287.3" stroke="#333" stroke-width="1.25"/>
<text transform="translate(826 1183) rotate(32) scale(1.055 1)" style="font-size:38.8px;" fill="#333" stroke="#fff" stroke-width="1.1" paint-order="fill">61°</text>
<text transform="translate(779 1220) rotate(33) scale(1.089 1)" style="font-size:38.8px;" fill="#333" stroke="#fff" stroke-width="1.1" paint-order="fill">49°</text>
<text transform="translate(764 1275) rotate(38) scale(1.055 1)" style="font-size:38.8px;" fill="#333" stroke="#fff" stroke-width="1.1" paint-order="fill">43°</text>
<path d="M592.6 1346.7A151 151 0 0 1 716.3 1282.3" stroke="#000" stroke-width="1.6" />
<path d="M601.3 1328L592.6 1346.7L609.1 1334.3" stroke="#333" stroke-width="1.25"/>
<path d="M696.3 1287.3L716.3 1282.3L696.3 1277.3" stroke="#333" stroke-width="1.25"/>
<text transform="translate(618 1287) rotate(-17) scale(1.055 1)" style="font-size:38.8px;" fill="#333" stroke="#fff" stroke-width="1.1" paint-order="fill">55°</text>
<path d="M635.9 1144.6A187 187 0 0 1 645.3 1203" stroke="#000" stroke-width="1.6" />
<path d="M641.3 1187L645.3 1203L649.3 1187" stroke="#333" stroke-width="1.25"/>
<path d="M644.7 1158.6L635.9 1144.6L637.1 1161" stroke="#333" stroke-width="1.25"/>
<text transform="translate(657 1152) rotate(68) scale(0.956 1)" style="font-size:36px;" fill="#333" stroke="#fff" stroke-width="1.1" paint-order="fill">18°</text>
<path d="M1084 1295.8A104 104 0 0 1 940.2 1391.9" stroke="#000" stroke-width="1.6" />
<path d="M1089 1315.8L1084 1295.8L1079 1315.8" stroke="#333" stroke-width="1.25"/>
<path d="M960.6 1394.7L940.2 1391.9L956.9 1404" stroke="#333" stroke-width="1.25"/>
<path d="M1166.5 1295.8A126.5 126.5 0 0 1 988.5 1411.4" stroke="#000" stroke-width="1.6" />
<path d="M1171.5 1315.8L1166.5 1295.8L1161.5 1315.8" stroke="#333" stroke-width="1.25"/>
<path d="M1008.9 1414.9L988.5 1411.4L1004.8 1424.1" stroke="#333" stroke-width="1.25"/>
<text transform="translate(1022 1378) rotate(-52) scale(0.965 1)" style="font-size:37.4px;" fill="#333" stroke="#fff" stroke-width="1.1" paint-order="fill">113°</text>
<text transform="translate(1078 1410) rotate(-45) scale(1.046 1)" style="font-size:37.4px;" fill="#333" stroke="#fff" stroke-width="1.1" paint-order="fill">113°</text>
</g>
<g id="side-robot">
<rect x="527" y="1015" width="54.6" height="101" fill="#000" stroke="none"/>
<rect x="575" y="1008" width="6.6" height="108.5" fill="#000" stroke="none"/>
<rect x="542.9" y="1029.3" width="6.1" height="29.1" fill="#fff" stroke="none"/>
<rect x="542.9" y="1081.3" width="6.1" height="27.6" fill="#fff" stroke="none"/>
<rect x="554" y="1030.3" width="13.9" height="18.4" fill="#fff" stroke="none"/>
<rect x="554" y="1080.8" width="13.9" height="17.4" fill="#fff" stroke="none"/>
<rect x="554" y="1017.6" width="11" height="3" fill="#fff" stroke="none"/>
<rect x="554" y="1025.7" width="13" height="3.1" fill="#fff" stroke="none"/>
<rect x="554" y="1050.7" width="13" height="3.1" fill="#fff" stroke="none"/>
<rect x="554" y="1059.4" width="11" height="5.1" fill="#fff" stroke="none"/>
<rect x="554" y="1068" width="10" height="2.6" fill="#fff" stroke="none"/>
<rect x="554" y="1073.2" width="10" height="2.5" fill="#fff" stroke="none"/>
<rect x="532" y="1018" width="18" height="3" fill="#fff" stroke="none"/>
<rect x="532" y="1024" width="9" height="4" fill="#fff" stroke="none"/>
<rect x="532" y="1056" width="9" height="3" fill="#fff" stroke="none"/>
<rect x="532" y="1067" width="18" height="3.5" fill="#fff" stroke="none"/>
<rect x="532" y="1073" width="13" height="2.5" fill="#fff" stroke="none"/>
<rect x="554" y="1100.7" width="13" height="2.6" fill="#fff" stroke="none"/>
<rect x="554" y="1106.3" width="11" height="3.1" fill="#fff" stroke="none"/>
<rect x="554" y="1111.4" width="11" height="3.1" fill="#fff" stroke="none"/>
<rect x="532" y="1106.5" width="9" height="2.5" fill="#fff" stroke="none"/>
<circle cx="570.5" cy="1021.5" r="1.4" fill="#fff" stroke="none"/>
<circle cx="572.5" cy="1027.5" r="1.4" fill="#fff" stroke="none"/>
<circle cx="572.5" cy="1052" r="1.4" fill="#fff" stroke="none"/>
<circle cx="570.5" cy="1071.5" r="1.4" fill="#fff" stroke="none"/>
<circle cx="572.5" cy="1102" r="1.4" fill="#fff" stroke="none"/>
<circle cx="570.5" cy="1110" r="1.4" fill="#fff" stroke="none"/>
<circle cx="545" cy="1024.5" r="1.4" fill="#fff" stroke="none"/>
<rect x="518.4" y="1029.3" width="6.6" height="21.9" stroke="#000" stroke-width="1.8" fill="none"/>
<rect x="518.4" y="1079.3" width="6.6" height="23.5" stroke="#000" stroke-width="1.8" fill="none"/>
<rect x="524" y="1024" width="3" height="32" fill="#000" stroke="none"/>
<rect x="524" y="1076" width="3" height="32" fill="#000" stroke="none"/>
<path d="M575 1008.4L598 1008.4L598 1011L605.6 1011" stroke="#000" stroke-width="2.6" />
<path d="M581.6 1112L606 1112" stroke="#000" stroke-width="2.3" />
<rect x="585.2" y="1031.8" width="19.8" height="13.8" stroke="#000" stroke-width="2.3" fill="none"/>
<path d="M585.2 1037.4L605 1037.4" stroke="#000" stroke-width="1.6" />
<path d="M581.6 1068.6L605 1068.6" stroke="#000" stroke-width="2.3" />
<path d="M586 1100L586 1112" stroke="#000" stroke-width="1.6" />
<path d="M605.6 1011Q610 1012 612 1020L620 1037" stroke="#000" stroke-width="1.6" />
<rect x="618.4" y="1037" width="4" height="54" fill="#000" stroke="none"/>
<path d="M622 1080L606 1110.4M605 1067L620 1060.4" stroke="#000" stroke-width="1.8" />
<path d="M606 1115L632.7 1115L632.7 1077M606 1110.4L606 1115" stroke="#000" stroke-width="2.3" />
<path d="M622 1086L632 1077" stroke="#000" stroke-width="1.8" />
<path d="M629.6 1041L629.6 1077.8" stroke="#000" stroke-width="2.3" />
<path d="M629.6 1040.5L657.7 1040.5Q666.8 1043 666.8 1049L666.8 1088Q666.8 1094 657.7 1096L632.7 1096" stroke="#000" stroke-width="2.3" />
<path d="M655.1 1040.5L655.1 1096" stroke="#000" stroke-width="2.3" />
<rect x="646.4" y="1112" width="36.8" height="28" stroke="#000" stroke-width="2.3" fill="none"/>
<rect x="619.4" y="1123.7" width="16.3" height="20.3" stroke="#000" stroke-width="2.3" fill="none"/>
<rect x="602" y="1129.3" width="17.4" height="10.7" stroke="#000" stroke-width="2.3" fill="none"/>
<rect x="602" y="1129.3" width="3.5" height="10.7" fill="#000" stroke="none"/>
<circle cx="578" cy="1146" r="17.3" stroke="#000" stroke-width="2.2" fill="none"/>
<path d="M561 1134Q568 1124 581 1119" stroke="#000" stroke-width="2.2" />
<path d="M581.6 1116.5L566 1128" stroke="#444" stroke-width="1.6" />
<path d="M581 1076.6L1250 1076.6" stroke="#000" stroke-width="1.8" />
<path d="M666.8 1046.2L783.7 1046.2" stroke="#000" stroke-width="2.3" />
<path d="M632.7 1107L774.5 1107" stroke="#000" stroke-width="2.3" />
<path d="M632.7 1112L683.7 1112" stroke="#000" stroke-width="2.3" />
<rect x="707" y="1040" width="8" height="6.2" stroke="#000" stroke-width="1.6" fill="none"/>
<rect x="751" y="1040" width="7" height="6.2" stroke="#000" stroke-width="1.6" fill="none"/>
<path d="M783.7 1046.2L783.7 1109.6" stroke="#000" stroke-width="2.3" />
<path d="M789.8 1046.2L789.8 1109.6" stroke="#000" stroke-width="2.3" />
<path d="M774.5 1076L774.5 1113.7" stroke="#000" stroke-width="2.3" />
<path d="M783.7 1109.6L789.8 1109.6" stroke="#000" stroke-width="2.3" />
<rect x="789.8" y="1052.4" width="31.6" height="17.4" stroke="#000" stroke-width="2.3" fill="none"/>
<path d="M821.4 1052.4L831.6 1052.4" stroke="#000" stroke-width="1.8" />
<path d="M821.4 1069.8L831.6 1069.8" stroke="#000" stroke-width="1.8" />
<path d="M831.6 1052.4L831.6 1069.8" stroke="#666" stroke-width="1.8" />
<rect x="789.8" y="1085" width="31.6" height="22.6" stroke="#000" stroke-width="2.3" fill="none"/>
<path d="M821.4 1085L831.6 1085" stroke="#000" stroke-width="1.8" />
<path d="M821.4 1107.6L831.6 1107.6" stroke="#000" stroke-width="1.8" />
<path d="M831.6 1085L831.6 1107.6" stroke="#666" stroke-width="1.8" />
<path d="M789.8 1047.5L895 1047.7" stroke="#999" stroke-width="1.6" />
<path d="M789.8 1109L895 1107.4" stroke="#999" stroke-width="1.6" />
<path d="M894.8 1047.7L894.8 1109" stroke="#000" stroke-width="2" />
<path d="M905.5 1047.7L905.5 1109" stroke="#000" stroke-width="3" />
<path d="M913 1047.7L913 1109" stroke="#000" stroke-width="2" />
<path d="M894.8 1047.7L913 1047.7" stroke="#000" stroke-width="2.3" />
<path d="M894.8 1109L913 1109" stroke="#000" stroke-width="2.3" />
<path d="M913 1050.8L1029.5 1050.8" stroke="#000" stroke-width="2.3" />
<path d="M913 1105.9L1029.5 1105.9" stroke="#000" stroke-width="2.3" />
<rect x="970" y="1047.5" width="11" height="3.3" fill="#000" stroke="none"/>
<rect x="998" y="1047.5" width="10" height="3.3" fill="#000" stroke="none"/>
<rect x="914.7" y="1052.4" width="31.3" height="17.6" stroke="#000" stroke-width="1.8" fill="none"/>
<path d="M946 1052.4L956 1052.4L956 1073.7M946 1070L956 1073.7" stroke="#000" stroke-width="1.6" />
<rect x="914.7" y="1070" width="41.3" height="4" fill="#000" stroke="none"/>
<rect x="914.7" y="1083" width="31.3" height="23" stroke="#000" stroke-width="1.8" fill="none"/>
<path d="M946 1083L956 1083L956 1106" stroke="#000" stroke-width="1.6" />
<path d="M956 1056L956 1100" stroke="#999" stroke-width="1.4" />
<path d="M1029.5 1050.8L1040 1038.5L1066 1038.5M1029.5 1105.9L1040 1118L1066 1118" stroke="#000" stroke-width="2.3" />
<path d="M1029.5 1050.8L1029.5 1105.9" stroke="#000" stroke-width="1.6" />
<path d="M1040 1038.5L1040 1118" stroke="#000" stroke-width="2.3" />
<path d="M1049.4 1038.5L1049.4 1118" stroke="#000" stroke-width="2.3" />
<path d="M1057 1038.5L1057 1118" stroke="#000" stroke-width="2.3" />
<path d="M1066 1038.5L1066 1118" stroke="#000" stroke-width="2.3" />
<rect x="1056" y="1036.5" width="10" height="2.5" fill="#000" stroke="none"/>
<path d="M1029.5 1082L1034 1082L1034 1090L1040 1090" stroke="#000" stroke-width="1.8" />
<path d="M1066 1044.7L1086 1044.7Q1090.7 1045 1090.7 1050L1090.7 1105Q1090.7 1110 1086 1110.5L1066 1110.5" stroke="#000" stroke-width="2.3" />
<rect x="1089.5" y="1050" width="3.5" height="55" fill="#000" stroke="none"/>
<rect x="1093" y="1058.5" width="21" height="4" fill="#000" stroke="none"/>
<rect x="1093" y="1092" width="21" height="4.5" fill="#000" stroke="none"/>
<path d="M1093 1065.7L1114 1065.7M1093 1088L1114 1088" stroke="#000" stroke-width="1.6" />
<path d="M1072.3 1044.7L1072.3 1110.5" stroke="#000" stroke-width="1.6" />
<circle cx="1152.3" cy="1078.3" r="41" stroke="#000" stroke-width="2.2" fill="none"/>
<circle cx="1152.3" cy="1078.3" r="37.5" stroke="#000" stroke-width="1.5" fill="none"/>
<circle cx="1152.3" cy="1078.3" r="25.5" stroke="#000" stroke-width="1.5" fill="none"/>
<path d="M1127 1084Q1140 1074 1152 1078L1165 1090" stroke="#444" stroke-width="1.4" />
<rect x="1147" y="1112" width="10" height="8" stroke="#000" stroke-width="1.6" fill="none"/>
<path d="M1191.5 1043.2L1191.5 1112.8" stroke="#000" stroke-width="2.2" />
<path d="M1194 1043.2L1194 1112.8" stroke="#000" stroke-width="1.4" />
<path d="M1201.6 1043.2L1201.6 1112.8" stroke="#000" stroke-width="2" />
<path d="M1204.2 1043.2L1204.2 1112.8" stroke="#000" stroke-width="2" />
<path d="M1206.6 1043.2L1206.6 1112.8" stroke="#000" stroke-width="1.3" />
<path d="M1210.9 1043.2L1210.9 1112.8" stroke="#000" stroke-width="2.2" />
<path d="M1191.5 1043.2L1210.9 1043.2" stroke="#000" stroke-width="2.3" />
<path d="M1191.5 1112.8L1210.9 1112.8" stroke="#000" stroke-width="2.3" />
<path d="M1210.9 1046.5L1224.1 1046.5" stroke="#000" stroke-width="2.3" />
<path d="M1210.9 1109.5L1224.1 1109.5" stroke="#000" stroke-width="2.3" />
<rect x="1224.1" y="1035.2" width="8.7" height="86.2" stroke="#000" stroke-width="2.3" fill="none"/>
<circle cx="716.3" cy="1146.3" r="24" stroke="#000" stroke-width="2.4" fill="none"/>
<circle cx="716.3" cy="1146.3" r="21" stroke="#000" stroke-width="1.2" fill="none"/>
<path d="M553 1146.3L752 1146.3" stroke="#000" stroke-width="1.6" />
<path d="M752 1145.3L774.5 1113.7" stroke="#000" stroke-width="1.8" />
<path d="M693 1139L683 1139" stroke="#000" stroke-width="1.6" />
<path d="M566 1159Q578 1168 596 1160L700 1130" stroke="#000" stroke-width="1.8" />
<path d="M548 1146Q550 1135 561 1130" stroke="#000" stroke-width="1.8" />
<path d="M697 1179L697 1420" stroke="#000" stroke-width="2.3" />
<path d="M762.2 1229L762.2 1386" stroke="#000" stroke-width="2.3" />
<path d="M697 1229L762.2 1229" stroke="#000" stroke-width="2.3" />
<path d="M697 1179L716 1179" stroke="#000" stroke-width="2.3" />
<rect x="680.6" y="1222.9" width="15.4" height="13.1" stroke="#000" stroke-width="1.6" fill="none"/>
<path d="M684 1236L690 1223" stroke="#000" stroke-width="1.3" />
<path d="M710.2 1173.9L710.2 1203Q711 1209.6 717 1209.6L733 1209.6Q739 1209 740.8 1200L740.8 1173.9" stroke="#000" stroke-width="1.8" />
<path d="M742.9 1153.5L763.3 1228" stroke="#000" stroke-width="1.6" />
<path d="M736 1168L762.2 1168" stroke="#000" stroke-width="1.4" />
<rect x="717.9" y="1267.3" width="3.1" height="3" fill="#000" stroke="none"/>
<rect x="743.5" y="1267.3" width="3.1" height="3" fill="#000" stroke="none"/>
<path d="M700 1166L760 1166" stroke="#000" stroke-width="1.4" />
<path d="M550.4 1157.6L550.4 1390" stroke="#000" stroke-width="2.3" />
<path d="M550.4 1184L577.6 1184" stroke="#000" stroke-width="2.3" />
<path d="M550.4 1314.2L577.6 1314.2" stroke="#000" stroke-width="2.3" />
<path d="M550.4 1157.6Q552 1150 558 1146" stroke="#000" stroke-width="1.6" />
<path d="M550 1390L556 1418M577.3 1420L584 1450" stroke="#000" stroke-width="1.6" />
<circle cx="716.3" cy="1433.3" r="58" stroke="#000" stroke-width="2.4" fill="none"/>
<circle cx="716.3" cy="1433.3" r="54" stroke="#000" stroke-width="1.6" fill="none"/>
<circle cx="716.3" cy="1433.3" r="49" stroke="#000" stroke-width="1.2" fill="none"/>
<circle cx="716.3" cy="1433.3" r="43" stroke="#000" stroke-width="2" fill="none"/>
<circle cx="716.3" cy="1433.3" r="56" stroke="#777" stroke-width="2.5" fill="none"/>
<rect x="689.4" y="1407" width="51" height="53" fill="#000" stroke="none"/>
<circle cx="712" cy="1424" r="3" fill="#fff" stroke="none"/>
<circle cx="720" cy="1432" r="2.5" fill="#fff" stroke="none"/>
<circle cx="706" cy="1446" r="2" fill="#fff" stroke="none"/>
<circle cx="724" cy="1446" r="2" fill="#fff" stroke="none"/>
<circle cx="715" cy="1438" r="2.2" fill="#fff" stroke="none"/>
<circle cx="700" cy="1416" r="1.6" fill="#fff" stroke="none"/>
<circle cx="731" cy="1418" r="1.4" fill="#fff" stroke="none"/>
<circle cx="716" cy="1452" r="1.4" fill="#fff" stroke="none"/>
<rect x="710" y="1459" width="12" height="7" fill="#fff" stroke="none"/>
<rect x="710" y="1459" width="12" height="7" stroke="#000" stroke-width="1.4" fill="none"/>
<rect x="713" y="1466" width="6" height="4" fill="#000" stroke="none"/>
<rect x="685" y="1404" width="60" height="59" stroke="#000" stroke-width="1.4" fill="none"/>
<path d="M656 1433.3L780 1433.3" stroke="#000" stroke-width="1.6" />
<rect x="774" y="1424" width="9" height="17" stroke="#000" stroke-width="1.8" fill="none"/>
<path d="M758 1394L764 1388L772 1394L772 1404" stroke="#000" stroke-width="1.6" />
<rect x="752" y="1392" width="10" height="10" fill="#555" stroke="none"/>
<path d="M772 1446Q784 1452 782 1466Q778 1480 766 1484" stroke="#000" stroke-width="1.4" />
<rect x="707" y="1371" width="26" height="17" stroke="#000" stroke-width="1.8" fill="none"/>
<rect x="711" y="1374" width="13" height="10" stroke="#000" stroke-width="1.6" fill="none"/>
<path d="M700 1376L708 1384L700 1388Z" stroke="#000" stroke-width="1.4" />
<path d="M733 1376Q740 1378 738 1386" stroke="#000" stroke-width="1.4" />
<rect x="668" y="1486.5" width="45.9" height="59.2" stroke="#000" stroke-width="1.8" fill="none" rx="10"/>
<rect x="676" y="1494" width="32" height="44" stroke="#000" stroke-width="1.6" fill="none" rx="9"/>
<path d="M713.9 1520L740 1480M716 1545L770 1460" stroke="#000" stroke-width="1.4" />
<path d="M748 1482L690 1585M735 1500L632 1580M690 1545L640 1585" stroke="#000" stroke-width="1.4" />
<path d="M453.7 1677.3L453.7 1585.5L505.7 1585.5" stroke="#000" stroke-width="2.3" />
<path d="M716 1592.6L716 1677.3" stroke="#000" stroke-width="2.3" />
<rect x="693" y="1585.5" width="29" height="7.1" stroke="#000" stroke-width="1.8" fill="none"/>
<path d="M453.7 1677.3L499.6 1677.3L502 1679.2L583 1679.2L585 1674L630 1674L632 1679.2L716 1679.2" stroke="#000" stroke-width="2.3" />
<path d="M505.7 1592.6L716 1592.6" stroke="#000" stroke-width="1.6" />
<path d="M453.7 1590L505.7 1590" stroke="#000" stroke-width="1.4" />
<rect x="706" y="1663" width="10" height="16" fill="#000" stroke="none"/>
<rect x="447.5" y="1638.6" width="6.2" height="21.4" stroke="#000" stroke-width="1.8" fill="none"/>
<rect x="450.6" y="1607" width="3.1" height="16" stroke="#000" stroke-width="1.8" fill="none"/>
<rect x="449" y="1596" width="5" height="8" fill="#000" stroke="none"/>
<path d="M453.7 1585.5L505.7 1585.5L505.7 1598" stroke="#000" stroke-width="2.3" />
<rect x="466" y="1579" width="14" height="6.5" fill="#000" stroke="none"/>
<rect x="470" y="1595" width="15" height="11" stroke="#000" stroke-width="1.8" fill="none"/>
<rect x="470" y="1604" width="18" height="4" fill="#000" stroke="none"/>
<rect x="496" y="1594" width="14" height="8" fill="#000" stroke="none"/>
<path d="M507.8 1594.7L701.6 1594.7" stroke="#000" stroke-width="2.2" />
<path d="M531 1601.8L679 1601.8" stroke="#000" stroke-width="2.3" />
<path d="M536 1622L677 1622" stroke="#000" stroke-width="3.6" />
<path d="M542.4 1636.5L668 1636.5" stroke="#000" stroke-width="3.6" />
<path d="M536 1642.7L683 1642.7" stroke="#000" stroke-width="2.3" />
<path d="M536 1601.8L536 1642.7" stroke="#000" stroke-width="2.3" />
<path d="M677 1601.8L677 1622" stroke="#000" stroke-width="2.3" />
<path d="M542.4 1622L542.4 1636.5" stroke="#000" stroke-width="2.3" />
<path d="M668 1622L668 1636.5" stroke="#000" stroke-width="2.3" />
<path d="M487 1598L487 1627L536 1627" stroke="#000" stroke-width="2.3" />
<path d="M491 1604L491 1623L532 1623" stroke="#000" stroke-width="1.6" />
<path d="M683 1642.7L683 1662Q684 1666 690 1666L704 1666Q710 1666 710 1662" stroke="#000" stroke-width="1.8" />
<path d="M690 1666Q697 1672 704 1666" stroke="#000" stroke-width="1.4" />
<rect x="696" y="1597" width="10" height="7" fill="#000" stroke="none"/>
<path d="M464 1625Q478 1650 500 1662Q550 1672 584 1660Q598 1652 600 1640" stroke="#555" stroke-width="3" stroke-dasharray="13 5"/>
<rect x="522" y="1566" width="20" height="19.5" stroke="#000" stroke-width="2.3" fill="none"/>
<path d="M522 1576L540 1576" stroke="#000" stroke-width="1.8" />
<path d="M530 1556L530 1566" stroke="#000" stroke-width="1.6" />
<path d="M542 1570L552 1570L552 1585.5" stroke="#000" stroke-width="2.3" />
<rect x="556" y="1549" width="6" height="35" fill="#000" stroke="none"/>
<rect x="560" y="1560" width="13" height="22" stroke="#000" stroke-width="2.3" fill="none"/>
<rect x="560" y="1556" width="15" height="4" fill="#000" stroke="none"/>
<rect x="575" y="1539.6" width="29.7" height="42.8" stroke="#000" stroke-width="2.3" fill="none"/>
<rect x="577" y="1578" width="28" height="7.5" fill="#000" stroke="none"/>
<rect x="605" y="1545" width="27" height="4" fill="#000" stroke="none"/>
<rect x="605" y="1553" width="35" height="4" fill="#000" stroke="none"/>
<rect x="610" y="1557" width="12" height="19" stroke="#000" stroke-width="1.6" fill="none"/>
<path d="M622 1576Q640 1560 650 1545" stroke="#000" stroke-width="1.4" />
<rect x="566" y="1585.5" width="42" height="3.5" fill="#000" stroke="none"/>
<rect x="568" y="1453.9" width="46" height="14.1" fill="#000" stroke="none"/>
<rect x="572" y="1444.7" width="38" height="9.3" fill="#000" stroke="none"/>
<rect x="580" y="1447" width="20" height="3" fill="#fff" stroke="none"/>
<rect x="576" y="1458" width="16" height="4" fill="#fff" stroke="none"/>
<rect x="610" y="1456" width="11" height="26" fill="#777" stroke="#000" stroke-width="1.5"/>
<rect x="621" y="1464" width="5" height="10" stroke="#000" stroke-width="1.6" fill="none"/>
<rect x="568" y="1468" width="46" height="57" stroke="#000" stroke-width="2.3" fill="none"/>
<path d="M572 1468L572 1525" stroke="#000" stroke-width="1.6" />
<path d="M578 1468L578 1525" stroke="#000" stroke-width="1.6" />
<path d="M582 1468L582 1525" stroke="#000" stroke-width="1.6" />
<path d="M602 1468L602 1525" stroke="#000" stroke-width="1.6" />
<path d="M607 1468L607 1525" stroke="#000" stroke-width="1.6" />
<rect x="568" y="1474" width="46" height="3.5" fill="#000" stroke="none"/>
<path d="M566 1525L616 1525" stroke="#000" stroke-width="1.8" />
<path d="M566 1529L616 1529" stroke="#000" stroke-width="1.8" />
<path d="M566 1533.5L616 1533.5" stroke="#000" stroke-width="1.8" />
<path d="M566 1525L566 1533Q568 1539.6 575 1539.6L606 1539.6Q614 1539 616 1533L616 1525" stroke="#000" stroke-width="1.8" />
<path d="M596 1482L596 1500" stroke="#000" stroke-width="1.4" />
<path d="M596 1500L602 1500" stroke="#000" stroke-width="1.4" />
<path d="M621 1441.6L662.9 1441.6L662.9 1544.7L621 1544.7" stroke="#000" stroke-width="1.6" />
<path d="M621 1441.6L621 1456M630 1434L630 1442M622 1486L652 1480L650 1464M640 1470L646 1490" stroke="#000" stroke-width="1.5" />
<path d="M616 1512L622 1500" stroke="#000" stroke-width="1.4" />
<rect x="628" y="1428" width="14" height="3" fill="#000" stroke="none"/>
<path d="M522.9 1512Q522.9 1504.7 530 1504.7L548 1504.7Q554.7 1505 554.7 1512L554.7 1583.9" stroke="#000" stroke-width="1.8" />
<path d="M522.9 1512L528 1564" stroke="#000" stroke-width="1.6" />
<path d="M534 1512Q530 1514 531 1522L540 1552Q544 1560 548 1552L548 1520Q548 1510 540 1510.4Z" stroke="#000" stroke-width="1.6" />
<path d="M558 1470L548 1504" stroke="#000" stroke-width="1.4" />
<path d="M331 1423.9C332.2 1422.2 334.5 1416.7 338 1414C341.5 1411.3 347.4 1409.6 352 1408C356.6 1406.4 363.1 1404.9 365.3 1404.3" stroke="#000" stroke-width="1.5" />
<path d="M365.3 1404.3L448.6 1417.3L476.3 1479.4" stroke="#000" stroke-width="1.5" />
<path d="M444 1419L471 1481" stroke="#000" stroke-width="1.3" />
<path d="M452 1425L477 1478" stroke="#444" stroke-width="2.2" />
<path d="M476.3 1479.4Q468 1486 451.8 1486L406 1476L447 1425.5" stroke="#000" stroke-width="1.5" />
<path d="M406 1476L392 1494Q388 1498 382 1494L368.6 1487.6L356.3 1410.8" stroke="#000" stroke-width="1.5" />
<path d="M368.6 1487.6Q354 1495 335 1490.8" stroke="#000" stroke-width="1.5" />
<path d="M458.4 1426.3L541.6 1401Q560 1398 576 1406.7" stroke="#000" stroke-width="1.5" />
<path d="M354.7 1561L368 1543Q374 1536 380 1534L461.6 1513.7L510.6 1559.4" stroke="#000" stroke-width="1.5" />
<path d="M466 1520L506 1564M470 1516L513 1556" stroke="#444" stroke-width="2.2" />
<path d="M472 1512L489 1501" stroke="#000" stroke-width="1.6" />
<path d="M510.6 1559.4L498 1570L484.5 1579" stroke="#666" stroke-width="1.6" />
<path d="M461.6 1513.7L442 1587L430.6 1609L414.3 1609Q409 1609 406 1605L374.3 1544.7" stroke="#000" stroke-width="1.5" />
<path d="M354.7 1561L380 1622L407.8 1616.5L442 1587" stroke="#000" stroke-width="1.5" />
<path d="M484.5 1579Q470 1592 452 1586" stroke="#000" stroke-width="1.4" />
<path d="M354.7 1561L385 1634.5" stroke="#000" stroke-width="1.5" />
<path d="M481 1472L507 1468" stroke="#000" stroke-width="1.5" />
<path d="M512 1461.4C514 1459.7 519.1 1453.8 524 1451C528.9 1448.2 536.2 1445.3 541.6 1444.3C547 1443.3 553.8 1444.9 556.3 1445" stroke="#000" stroke-width="1.5" />
<path d="M512 1461.4C510.8 1464.5 507.3 1474 505 1480C502.7 1486 498.3 1492.2 498.4 1497.3C498.5 1502.4 501.8 1508.6 505.7 1510.4C509.6 1512.2 519.3 1508.4 522 1508" stroke="#000" stroke-width="1.5" />
<path d="M527 1456.5L522 1533L528.6 1564" stroke="#000" stroke-width="1.5" />
<path d="M529 1458L560 1452" stroke="#000" stroke-width="1.3" />
<circle cx="584" cy="1428" r="16" stroke="#000" stroke-width="1.4" fill="none"/>
<path d="M536 1460C537.7 1462.3 541.7 1470.7 546 1474C550.3 1477.3 557.7 1479.3 562 1480C566.3 1480.7 570.3 1478.3 572 1478" stroke="#000" stroke-width="1.3" />
<path d="M560 1440L560 1486" stroke="#000" stroke-width="1.4" />
<path d="M548 1462L572 1462" stroke="#000" stroke-width="1.3" />
<path d="M476 1482L498 1497" stroke="#000" stroke-width="1.3" />
<path d="M598 1412L640 1402L700 1420" stroke="#000" stroke-width="1.3" />
<rect x="572" y="1402" width="5" height="10" fill="#000" stroke="none"/>
<path d="M577.3 1406L577.3 1470" stroke="#000" stroke-width="1.6" />
<g transform="translate(350 1311) rotate(-17) translate(-578 -1146)">
<rect x="527" y="1015" width="48" height="101" stroke="#000" stroke-width="2.2" fill="none"/>
<rect x="527" y="1024" width="14" height="32" fill="#000" stroke="none"/>
<rect x="527" y="1076" width="14" height="32" fill="#000" stroke="none"/>
<rect x="549" y="1015" width="5" height="101" fill="#000" stroke="none"/>
<rect x="567.9" y="1015" width="7.1" height="101" fill="#000" stroke="none"/>
<rect x="541" y="1058.4" width="26.9" height="22.9" fill="#000" stroke="none"/>
<rect x="575" y="1008" width="6.6" height="108.5" fill="#000" stroke="none"/>
<rect x="542.9" y="1029.3" width="6.1" height="29.1" fill="#fff" stroke="none"/>
<rect x="542.9" y="1081.3" width="6.1" height="27.6" fill="#fff" stroke="none"/>
<rect x="554" y="1030.3" width="13.9" height="18.4" fill="#fff" stroke="none"/>
<rect x="554" y="1080.8" width="13.9" height="17.4" fill="#fff" stroke="none"/>
<rect x="554" y="1017.6" width="11" height="3" fill="#fff" stroke="none"/>
<rect x="554" y="1025.7" width="13" height="3.1" fill="#fff" stroke="none"/>
<rect x="554" y="1050.7" width="13" height="3.1" fill="#fff" stroke="none"/>
<rect x="554" y="1059.4" width="11" height="5.1" fill="#fff" stroke="none"/>
<rect x="554" y="1068" width="10" height="2.6" fill="#fff" stroke="none"/>
<rect x="554" y="1073.2" width="10" height="2.5" fill="#fff" stroke="none"/>
<rect x="532" y="1018" width="18" height="3" fill="#fff" stroke="none"/>
<rect x="532" y="1024" width="9" height="4" fill="#fff" stroke="none"/>
<rect x="532" y="1056" width="9" height="3" fill="#fff" stroke="none"/>
<rect x="532" y="1067" width="18" height="3.5" fill="#fff" stroke="none"/>
<rect x="532" y="1073" width="13" height="2.5" fill="#fff" stroke="none"/>
<rect x="554" y="1100.7" width="13" height="2.6" fill="#fff" stroke="none"/>
<rect x="554" y="1106.3" width="11" height="3.1" fill="#fff" stroke="none"/>
<rect x="554" y="1111.4" width="11" height="3.1" fill="#fff" stroke="none"/>
<rect x="532" y="1106.5" width="9" height="2.5" fill="#fff" stroke="none"/>
<circle cx="570.5" cy="1021.5" r="1.4" fill="#fff" stroke="none"/>
<circle cx="572.5" cy="1027.5" r="1.4" fill="#fff" stroke="none"/>
<circle cx="572.5" cy="1052" r="1.4" fill="#fff" stroke="none"/>
<circle cx="570.5" cy="1071.5" r="1.4" fill="#fff" stroke="none"/>
<circle cx="572.5" cy="1102" r="1.4" fill="#fff" stroke="none"/>
<circle cx="570.5" cy="1110" r="1.4" fill="#fff" stroke="none"/>
<circle cx="545" cy="1024.5" r="1.4" fill="#fff" stroke="none"/>
<rect x="518.4" y="1029.3" width="6.6" height="21.9" stroke="#000" stroke-width="1.8" fill="none"/>
<rect x="518.4" y="1079.3" width="6.6" height="23.5" stroke="#000" stroke-width="1.8" fill="none"/>
<rect x="524" y="1024" width="3" height="32" fill="#000" stroke="none"/>
<rect x="524" y="1076" width="3" height="32" fill="#000" stroke="none"/>
<path d="M575 1008.4L598 1008.4L598 1011L605.6 1011" stroke="#000" stroke-width="2.6" />
<path d="M581.6 1112L606 1112" stroke="#000" stroke-width="2.3" />
<rect x="585.2" y="1031.8" width="19.8" height="13.8" stroke="#000" stroke-width="2.3" fill="none"/>
<path d="M585.2 1037.4L605 1037.4" stroke="#000" stroke-width="1.6" />
<path d="M581.6 1068.6L605 1068.6" stroke="#000" stroke-width="2.3" />
<path d="M586 1100L586 1112" stroke="#000" stroke-width="1.6" />
<path d="M605.6 1011Q610 1012 612 1020L620 1037" stroke="#000" stroke-width="1.6" />
<rect x="618.4" y="1037" width="4" height="54" fill="#000" stroke="none"/>
<path d="M622 1080L606 1110.4M605 1067L620 1060.4" stroke="#000" stroke-width="1.8" />
<path d="M606 1115L632.7 1115L632.7 1077M606 1110.4L606 1115" stroke="#000" stroke-width="2.3" />
<path d="M622 1086L632 1077" stroke="#000" stroke-width="1.8" />
<path d="M629.6 1041L629.6 1077.8" stroke="#000" stroke-width="2.3" />
<path d="M629.6 1040.5L657.7 1040.5Q666.8 1043 666.8 1049L666.8 1088Q666.8 1094 657.7 1096L632.7 1096" stroke="#000" stroke-width="2.3" />
<path d="M655.1 1040.5L655.1 1096" stroke="#000" stroke-width="2.3" />
<rect x="646.4" y="1112" width="36.8" height="28" stroke="#000" stroke-width="2.3" fill="none"/>
<rect x="619.4" y="1123.7" width="16.3" height="20.3" stroke="#000" stroke-width="2.3" fill="none"/>
<rect x="602" y="1129.3" width="17.4" height="10.7" stroke="#000" stroke-width="2.3" fill="none"/>
<rect x="602" y="1129.3" width="3.5" height="10.7" fill="#000" stroke="none"/>
<circle cx="578" cy="1146" r="17.3" stroke="#000" stroke-width="2.2" fill="none"/>
<path d="M561 1134Q568 1124 581 1119" stroke="#000" stroke-width="2.2" />
<path d="M581.6 1116.5L566 1128" stroke="#444" stroke-width="1.6" />
<path d="M666.8 1046.2L692 1046.2" stroke="#000" stroke-width="2.3" />
<path d="M632.7 1107L688 1107" stroke="#000" stroke-width="2.3" />
<path d="M683.2 1112L688 1112" stroke="#000" stroke-width="2.3" />
<path d="M692 1044L686 1150" stroke="#000" stroke-width="1.8" />
<path d="M676 1046L672 1107" stroke="#000" stroke-width="1.6" />
<path d="M589 1164L631 1151L686 1150" stroke="#000" stroke-width="1.8" />
<path d="M646.4 1114L683 1114" stroke="#666" stroke-width="3" />
<path d="M561 1158Q566 1164 576 1166" stroke="#000" stroke-width="1.8" />
</g>
</g>
<g id="front">
<path d="M1725 1028.8L1725 1686" stroke="#000" stroke-width="1.8" />
<path d="M1749.4 1028.8L1749.4 1686" stroke="#000" stroke-width="1.8" />
<path d="M1749.4 1692L1749.4 1738.5" stroke="#000" stroke-width="1.8" />
<path d="M1576 1185L1797.5 1185" stroke="#000" stroke-width="2.0" />
<path d="M1664.5 1191L1687.5 1185L1664.5 1179" stroke="#333" stroke-width="1.25"/>
<path d="M1687.5 1108.8L1687.5 1197.5" stroke="#000" stroke-width="2.0" />
<text transform="translate(1583.8 1177.5) scale(0.680 1)" style="font-size:43.2px;" fill="#333" stroke="none">222</text>
<circle cx="1749.4" cy="1077.5" r="43.7" stroke="#000" stroke-width="1.6" fill="none"/>
<circle cx="1749.4" cy="1077.5" r="40.5" stroke="#000" stroke-width="1.2" fill="none"/>
<circle cx="1749.4" cy="1077.5" r="22.5" stroke="#000" stroke-width="1.5" fill="none"/>
<circle cx="1749.4" cy="1077.5" r="35" stroke="#000" stroke-width="3.2" fill="none" stroke-dasharray="3.2 10.54"/>
<path d="M1681 1077.5L1795 1077.5" stroke="#000" stroke-width="2.0" />
<path d="M1706 1041L1695 1041Q1687.5 1042 1687.5 1050L1687.5 1106Q1688 1116 1697 1116L1706 1116" stroke="#000" stroke-width="1.8" />
<path d="M1702 1037.5L1702 1116" stroke="#000" stroke-width="4.5" />
<path d="M1706 1037.5L1706 1118" stroke="#000" stroke-width="1.8" />
<path d="M1701 1037.5L1730 1037.5" stroke="#000" stroke-width="1.8" />
<path d="M1693 1060L1693 1100" stroke="#000" stroke-width="1.4" />
<path d="M1793.5 1077.5L1793.5 1108" stroke="#000" stroke-width="1.8" />
<path d="M1793.5 1108Q1792 1118 1784 1122" stroke="#000" stroke-width="1.6" />
<path d="M1693.8 1170L1693.8 1123.8L1805 1123.8L1805 1171" stroke="#000" stroke-width="2.3" />
<path d="M1798.8 1141L1798.8 1171" stroke="#000" stroke-width="1.8" />
<path d="M1690 1145L1808.8 1145" stroke="#000" stroke-width="2.0" />
<path d="M1696 1141L1696 1170" stroke="#000" stroke-width="3" />
<path d="M1798.8 1141L1780 1141" stroke="#000" stroke-width="1.6" />
<path d="M1693.8 1141L1712 1141" stroke="#000" stroke-width="1.6" />
<rect x="1712.5" y="1123.8" width="26.3" height="50" stroke="#000" stroke-width="2.3" fill="none"/>
<rect x="1760" y="1145" width="22.5" height="28.8" stroke="#000" stroke-width="2.3" fill="none"/>
<path d="M1738.8 1150L1738.8 1136Q1739 1125 1749.4 1125Q1760 1125 1760 1136L1760 1150" stroke="#000" stroke-width="1.8" />
<rect x="1738.8" y="1145.5" width="21.2" height="4.5" fill="#000" stroke="none"/>
<path d="M1782.5 1110L1782.5 1185" stroke="#000" stroke-width="2.6" />
<path d="M1712.5 1110L1712.5 1123.8" stroke="#000" stroke-width="2.4" />
<path d="M1706 1116L1712.5 1123.8" stroke="#000" stroke-width="2" />
<rect x="1705" y="1118" width="9" height="9" fill="#000" stroke="none"/>
<path d="M1738.8 1173.8Q1742 1168 1745 1162L1749 1168" stroke="#000" stroke-width="1.6" />
<path d="M1716 1175Q1722 1182 1730 1184M1782 1175Q1772 1180 1760 1184" stroke="#000" stroke-width="1.4" />
<path d="M1738 1185L1742 1190L1756 1190L1760 1185" stroke="#000" stroke-width="1.4" />
<path d="M1695 1170C1695.7 1173.3 1697.2 1183.3 1699 1190C1700.8 1196.7 1703.5 1203.5 1706 1210C1708.5 1216.5 1712.5 1225.7 1713.8 1228.8" stroke="#000" stroke-width="1.6" />
<path d="M1712.8 1228.8L1712.8 1478" stroke="#000" stroke-width="1.8" />
<path d="M1802.5 1171C1801.8 1175 1799.9 1187.7 1798 1195C1796.1 1202.3 1793.2 1209.4 1791 1215C1788.8 1220.6 1786 1226.5 1785 1228.8" stroke="#000" stroke-width="1.6" />
<path d="M1785 1228.8C1785 1238.6 1784.2 1274.8 1785 1287.5C1785.8 1300.2 1786.5 1296.2 1790 1305C1793.5 1313.8 1801 1328.3 1806 1340C1811 1351.7 1817.3 1367.7 1820 1375C1822.7 1382.3 1821.7 1382.5 1822 1384" stroke="#000" stroke-width="1.6" />
<path d="M1713.8 1228.8L1785 1228.8" stroke="#000" stroke-width="2.3" />
<path d="M1712.8 1290C1712.2 1293.3 1710 1303.3 1709 1310C1708 1316.7 1707.3 1326.7 1707 1330" stroke="#555" stroke-width="1.4" />
<path d="M1685.4 1386L1685.4 1346.3L1710.5 1346.3" stroke="#000" stroke-width="1.8" />
<path d="M1675.4 1372.6L1675.4 1358.8L1685.4 1358.8" stroke="#000" stroke-width="1.8" />
<rect x="1690" y="1350" width="20" height="36" stroke="#000" stroke-width="1.6" fill="none"/>
<rect x="1693" y="1364" width="13" height="14" stroke="#000" stroke-width="1.6" fill="none"/>
<path d="M1690 1360L1706 1360" stroke="#000" stroke-width="1.4" />
<rect x="1674" y="1376" width="6" height="10" stroke="#000" stroke-width="1.6" fill="none"/>
<rect x="1674" y="1418" width="6" height="12" stroke="#000" stroke-width="1.6" fill="none"/>
<path d="M1675.4 1372.6L1646.6 1372.6L1646.6 1493L1660.4 1493L1664 1484L1685.4 1484L1685.4 1472.9L1705.5 1472.9" stroke="#000" stroke-width="2.3" />
<path d="M1685.4 1386L1685.4 1472.9" stroke="#000" stroke-width="1.8" />
<path d="M1685.4 1386L1706 1386" stroke="#000" stroke-width="1.6" />
<path d="M1685.4 1412L1706 1412" stroke="#000" stroke-width="1.6" />
<path d="M1685.4 1462L1706 1462" stroke="#000" stroke-width="1.6" />
<path d="M1706.7 1381.4L1706.7 1478" stroke="#000" stroke-width="3.2" />
<rect x="1640.3" y="1400" width="6.3" height="64" stroke="#000" stroke-width="1.8" fill="none"/>
<rect x="1568.9" y="1407.7" width="68.9" height="51.3" stroke="#000" stroke-width="2.3" fill="none"/>
<path d="M1591.4 1411.5L1637.8 1411.5" stroke="#000" stroke-width="2.2" />
<path d="M1591.4 1416.5L1637.8 1416.5" stroke="#000" stroke-width="2.2" />
<path d="M1591.4 1424L1637.8 1424" stroke="#000" stroke-width="2.2" />
<path d="M1591.4 1445.3L1637.8 1445.3" stroke="#000" stroke-width="2.2" />
<path d="M1591.4 1450.3L1637.8 1450.3" stroke="#000" stroke-width="2.2" />
<path d="M1591.4 1456.6L1637.8 1456.6" stroke="#000" stroke-width="2.2" />
<path d="M1591.4 1407.7L1591.4 1459" stroke="#000" stroke-width="1.8" />
<rect x="1569" y="1415" width="13" height="33" fill="#000" stroke="none"/>
<rect x="1569" y="1407.7" width="21" height="4.3" fill="#000" stroke="none"/>
<rect x="1557.6" y="1421.5" width="11.3" height="27.5" stroke="#000" stroke-width="1.8" fill="none"/>
<path d="M1562 1421.5L1562 1449" stroke="#000" stroke-width="1.4" />
<path d="M1572 1448L1590 1448L1590 1459L1578 1459Z" fill="#aaa" stroke="none"/>
<path d="M1637.8 1404L1637.8 1462" stroke="#000" stroke-width="1.8" />
<path d="M1822 1382.6L1822 1472.9" stroke="#000" stroke-width="3.4" />
<path d="M1826.5 1382.6L1826.5 1472.9" stroke="#000" stroke-width="2.4" />
<path d="M1830.8 1472L1830.8 1375L1858.3 1375L1858.3 1490" stroke="#000" stroke-width="2.3" />
<path d="M1858.3 1391.4L1863.4 1391.4L1863.4 1400L1877 1400L1877 1464L1863.4 1464L1863.4 1470" stroke="#000" stroke-width="1.8" />
<path d="M1868 1400L1868 1434" stroke="#000" stroke-width="1.4" />
<rect x="1878.4" y="1407.7" width="71.4" height="47.6" stroke="#000" stroke-width="2.3" fill="none"/>
<path d="M1884 1412L1926 1412" stroke="#000" stroke-width="2.2" />
<path d="M1884 1417L1926 1417" stroke="#000" stroke-width="2.2" />
<path d="M1884 1424L1926 1424" stroke="#000" stroke-width="2.2" />
<path d="M1884 1441L1926 1441" stroke="#000" stroke-width="2.2" />
<path d="M1884 1446L1926 1446" stroke="#000" stroke-width="2.2" />
<path d="M1884 1451L1926 1451" stroke="#000" stroke-width="2.2" />
<rect x="1926" y="1410" width="23.8" height="44" fill="#000" stroke="none"/>
<rect x="1930" y="1420" width="8" height="26" fill="#fff" stroke="none"/>
<rect x="1941" y="1424" width="4" height="16" fill="#fff" stroke="none"/>
<rect x="1949.8" y="1421.5" width="7.5" height="27.5" stroke="#000" stroke-width="1.6" fill="none"/>
<rect x="1924.8" y="1457.8" width="12.5" height="12.6" fill="#000" stroke="none"/>
<path d="M1720.5 1481.6L1808.2 1481.6" stroke="#000" stroke-width="2.3" />
<path d="M1718 1460.3C1719.3 1458.9 1723.1 1456.2 1726 1452C1728.9 1447.8 1733.1 1440 1735.5 1435.3C1737.9 1430.6 1738.3 1426.8 1740.6 1424C1742.9 1421.2 1746.4 1418.2 1749.3 1418.2C1752.2 1418.2 1755.9 1422 1758 1424C1760.1 1426 1760.9 1427.6 1761.9 1430.3C1762.9 1433 1763 1437.1 1764 1440C1765 1442.9 1766 1446 1768 1447.8C1770 1449.6 1773 1450.2 1776 1451C1779 1451.8 1782.4 1452.5 1785.7 1452.8C1789 1453 1793.1 1452.1 1796 1452.5C1798.9 1452.9 1801.4 1453.7 1803.2 1455.3C1805 1456.9 1806.2 1459.5 1807 1462C1807.8 1464.5 1808 1467.1 1808.2 1470.4C1808.4 1473.7 1808.2 1479.7 1808.2 1481.6" stroke="#000" stroke-width="1.6" />
<path d="M1785.7 1452.8C1785.8 1454.3 1785.4 1459.1 1786 1462C1786.6 1464.9 1787.4 1468 1789.4 1470.4C1791.4 1472.8 1795.4 1475.5 1798.2 1476.6C1801 1477.7 1804.7 1476.9 1806 1477" stroke="#000" stroke-width="1.5" />
<path d="M1709.2 1462.8L1720.5 1462.8L1720.5 1481.6Q1714 1484 1709.2 1478Z" stroke="#000" stroke-width="1.6" />
<path d="M1826.5 1472.9C1827.1 1474.1 1828.1 1478.5 1830 1480C1831.9 1481.5 1836.7 1481.7 1838 1482" stroke="#000" stroke-width="1.5" />
<path d="M1838 1482L1847 1482" stroke="#000" stroke-width="1.6" />
<path d="M1662.9 1484L1662.9 1549.3L1671.6 1556L1671.6 1593.2" stroke="#000" stroke-width="2.3" />
<path d="M1847 1480.4L1847 1545.5L1833.3 1545.5L1833.3 1593" stroke="#000" stroke-width="2.3" />
<path d="M1858.3 1490C1858.9 1492.2 1862 1498.3 1862 1503C1862 1507.7 1860.7 1513.4 1858 1518C1855.3 1522.6 1851.8 1525.2 1845.8 1530.5C1839.8 1535.8 1830.3 1543.8 1822 1550C1813.7 1556.2 1804 1563.3 1795.7 1568C1787.4 1572.7 1779.7 1575.7 1772 1578C1764.3 1580.3 1755.6 1581.6 1749.3 1581.9C1743 1582.2 1738.8 1580.8 1734 1580C1729.2 1579.2 1725 1578.7 1720.5 1576.9C1716 1575.1 1711.2 1571.7 1707 1569C1702.8 1566.3 1699.6 1563.6 1695.4 1560.6C1691.2 1557.6 1686.2 1554.1 1682 1551C1677.8 1547.9 1672.3 1543.3 1670.4 1541.8" stroke="#000" stroke-width="1.6" />
<path d="M1662.9 1549.3L1670.4 1541.8L1671.6 1556" stroke="#000" stroke-width="1.4" />
<path d="M1666 1593L1672 1576L1672 1590" stroke="#000" stroke-width="1.6" />
<path d="M1847 1520L1851 1510" stroke="#000" stroke-width="1.4" />
<rect x="1649" y="1593.2" width="198" height="6.2" stroke="#000" stroke-width="2.3" fill="none"/>
<path d="M1708 1593L1708 1589L1750 1589L1750 1585.6L1840.8 1585.6L1840.8 1593" stroke="#000" stroke-width="1.8" />
<rect x="1708" y="1588" width="44" height="3" fill="#000" stroke="none"/>
<path d="M1671 1599.4L1676.6 1604.4L1823.3 1604.4L1830 1599.4" stroke="#000" stroke-width="1.6" />
<path d="M1676.6 1604.4L1676.6 1623.2" stroke="#000" stroke-width="2.3" />
<path d="M1823.3 1604.4L1823.3 1623.2" stroke="#000" stroke-width="2.3" />
<path d="M1676.6 1623.2L1823.3 1623.2" stroke="#000" stroke-width="3.4" />
<path d="M1685.4 1623.2L1685.4 1635.8" stroke="#000" stroke-width="2.3" />
<path d="M1812 1623.2L1812 1635.8" stroke="#000" stroke-width="2.3" />
<path d="M1685.4 1635.8L1812 1635.8" stroke="#000" stroke-width="3.4" />
<rect x="1670.4" y="1638.3" width="156.6" height="5" stroke="#000" stroke-width="1.8" fill="none"/>
<path d="M1669 1643.3L1669 1664.6M1826.3 1643.3L1826.3 1664.6" stroke="#000" stroke-width="2.3" />
<rect x="1649" y="1664.6" width="200.6" height="14.3" stroke="#000" stroke-width="2.3" fill="none"/>
<path d="M1734.3 1664.6L1734.3 1678.9" stroke="#000" stroke-width="1.5" />
<path d="M1737 1664.6L1737 1678.9" stroke="#000" stroke-width="1.5" />
<path d="M1761.8 1664.6L1761.8 1678.9" stroke="#000" stroke-width="1.5" />
<path d="M1764.4 1664.6L1764.4 1678.9" stroke="#000" stroke-width="1.5" />
<path d="M1548.8 1432.8L1968.6 1432.8" stroke="#000" stroke-width="2.0" />
<path d="M1558 1450L1558 1738.5" stroke="#000" stroke-width="2.0" />
<path d="M1957.3 1421.5L1957.3 1738.5" stroke="#000" stroke-width="2.0" />
<path d="M1558 1722.7L1957.3 1722.7" stroke="#000" stroke-width="2.0" />
<path d="M1581 1716.7L1558 1722.7L1581 1728.7" stroke="#333" stroke-width="1.25"/>
<path d="M1726.4 1728.7L1749.4 1722.7L1726.4 1716.7" stroke="#333" stroke-width="1.25"/>
<path d="M1772.4 1716.7L1749.4 1722.7L1772.4 1728.7" stroke="#333" stroke-width="1.25"/>
<path d="M1934.3 1728.7L1957.3 1722.7L1934.3 1716.7" stroke="#333" stroke-width="1.25"/>
<text transform="translate(1614 1716) scale(1.135 1)" style="font-size:41.7px;" fill="#333" stroke="#fff" stroke-width="1.1" paint-order="fill">696</text>
<text transform="translate(1813 1716) scale(1.135 1)" style="font-size:41.7px;" fill="#333" stroke="#fff" stroke-width="1.1" paint-order="fill">767</text>
</g>
</svg>
</body></html>
